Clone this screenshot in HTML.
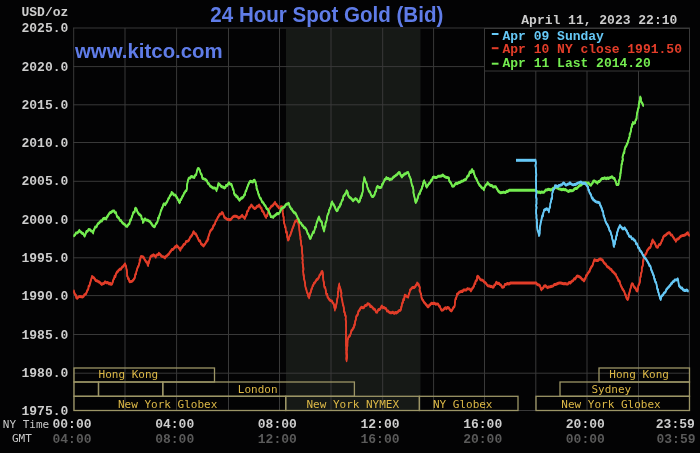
<!DOCTYPE html>
<html><head><meta charset="utf-8"><title>24 Hour Spot Gold (Bid)</title>
<style>html,body{margin:0;padding:0;background:#030304;width:700px;height:453px;overflow:hidden}svg{display:block}</style>
</head><body>
<svg width="700" height="453" viewBox="0 0 700 453">
<rect x="0" y="0" width="700" height="453" fill="#030304"/>
<rect x="286" y="29" width="134.5" height="381" fill="#161916"/>
<line x1="73.7" y1="28" x2="73.7" y2="411" stroke="#393939" stroke-width="1"/>
<line x1="125" y1="28" x2="125" y2="411" stroke="#393939" stroke-width="1"/>
<line x1="176.6" y1="28" x2="176.6" y2="411" stroke="#393939" stroke-width="1"/>
<line x1="228.5" y1="28" x2="228.5" y2="411" stroke="#393939" stroke-width="1"/>
<line x1="279.5" y1="28" x2="279.5" y2="411" stroke="#393939" stroke-width="1"/>
<line x1="331" y1="28" x2="331" y2="411" stroke="#393939" stroke-width="1"/>
<line x1="382.7" y1="28" x2="382.7" y2="411" stroke="#393939" stroke-width="1"/>
<line x1="433.6" y1="28" x2="433.6" y2="411" stroke="#393939" stroke-width="1"/>
<line x1="484.5" y1="28" x2="484.5" y2="411" stroke="#393939" stroke-width="1"/>
<line x1="535.8" y1="28" x2="535.8" y2="411" stroke="#393939" stroke-width="1"/>
<line x1="587.0" y1="28" x2="587.0" y2="411" stroke="#393939" stroke-width="1"/>
<line x1="638.5" y1="28" x2="638.5" y2="411" stroke="#393939" stroke-width="1"/>
<line x1="689.4" y1="28" x2="689.4" y2="411" stroke="#393939" stroke-width="1"/>
<line x1="73" y1="28.0" x2="690" y2="28.0" stroke="#393939" stroke-width="1"/>
<line x1="73" y1="66.6" x2="690" y2="66.6" stroke="#393939" stroke-width="1"/>
<line x1="73" y1="104.8" x2="690" y2="104.8" stroke="#393939" stroke-width="1"/>
<line x1="73" y1="142.5" x2="690" y2="142.5" stroke="#393939" stroke-width="1"/>
<line x1="73" y1="181.3" x2="690" y2="181.3" stroke="#393939" stroke-width="1"/>
<line x1="73" y1="220.2" x2="690" y2="220.2" stroke="#393939" stroke-width="1"/>
<line x1="73" y1="257.8" x2="690" y2="257.8" stroke="#393939" stroke-width="1"/>
<line x1="73" y1="295.6" x2="690" y2="295.6" stroke="#393939" stroke-width="1"/>
<line x1="73" y1="334.5" x2="690" y2="334.5" stroke="#393939" stroke-width="1"/>
<line x1="73" y1="373.2" x2="690" y2="373.2" stroke="#393939" stroke-width="1"/>
<line x1="73" y1="410.5" x2="690" y2="410.5" stroke="#393939" stroke-width="1"/>
<g fill="none" stroke="#9c9566" stroke-width="1.3">
<rect x="74" y="368" width="140.5" height="14.0"/>
<rect x="74" y="382" width="24.5" height="14.3"/>
<rect x="98.5" y="382" width="64.3" height="14.3"/>
<rect x="162.8" y="382" width="191.6" height="14.3"/>
<rect x="74" y="396.3" width="211.7" height="14.2"/>
<rect x="285.7" y="396.3" width="133.7" height="14.2"/>
<rect x="419.4" y="396.3" width="98.6" height="14.2"/>
<rect x="536" y="396.3" width="153.5" height="14.2"/>
<rect x="560" y="382" width="129.5" height="14.3"/>
<rect x="599" y="368" width="90.5" height="14.0"/>
</g>
<g font-family="DejaVu Sans Mono, monospace" font-size="11" fill="#dcb847">
<text x="98.6" y="378.3">Hong Kong</text>
<text x="237.8" y="393">London</text>
<text x="118" y="407.7">New York Globex</text>
<text x="306.4" y="407.7">New York NYMEX</text>
<text x="432.9" y="407.7">NY Globex</text>
<text x="609.3" y="378.3">Hong Kong</text>
<text x="591.4" y="393">Sydney</text>
<text x="561.3" y="407.7">New York Globex</text>
</g>
<g fill="none" stroke="#e23d29" stroke-width="1.4" stroke-linejoin="round" stroke-linecap="round">
<polyline points="74.0,290.3 74.2,291.7 74.8,293.1 75.3,294.2 76.1,294.6 76.2,296.9 77.3,297.5 78.4,296.1 79.9,295.6 81.6,295.9 82.6,296.2 83.7,295.3 84.4,293.9 85.2,293.6 86.0,293.0 86.6,291.6 87.4,289.4 87.9,288.9 88.5,287.7 88.5,285.5 89.4,284.9 89.7,284.2 89.9,282.3 90.5,281.7 90.6,280.1 91.1,279.0 91.8,276.4 91.9,275.7 93.9,277.0 94.6,277.9 95.8,279.7 97.5,280.2 98.5,281.0 99.7,281.5 100.7,282.6 101.8,283.6 102.8,282.9 104.1,282.5 105.1,281.0 106.6,282.0 107.8,281.7 109.2,283.1 110.1,282.4 111.1,283.6 112.1,283.0 112.8,281.1 113.1,279.7 113.8,278.0 114.4,277.4 114.5,275.4 115.5,275.7 115.7,273.7 116.0,273.2 117.0,271.1 117.6,271.1 118.4,269.7 120.0,268.3 121.0,268.4 122.1,266.4 123.0,265.8 124.2,264.2 125.0,263.1 126.0,265.5 126.3,266.4 126.5,268.5 126.5,268.4 126.9,269.6 126.8,271.6 127.3,272.5 127.0,275.0 127.6,275.7 128.0,277.8 128.9,278.2 129.1,279.7 129.6,281.0 131.1,280.8 132.3,280.3 133.3,279.2 134.3,277.7 135.0,276.5 135.0,275.7 135.2,273.8 136.2,272.9 136.2,271.7 136.7,269.6 137.0,269.2 137.2,267.9 138.1,265.7 138.6,265.1 138.9,263.8 139.4,262.2 139.7,261.5 139.5,259.1 140.4,259.2 140.4,257.1 140.9,255.8 142.3,255.9 143.5,256.5 144.1,257.4 144.7,259.0 145.4,259.8 146.2,261.1 147.1,261.5 147.6,263.9 148.2,264.7 148.3,263.1 149.0,261.9 148.8,261.0 149.6,259.3 149.6,258.4 150.3,257.4 150.3,256.3 151.6,255.0 152.2,255.0 153.4,254.0 154.9,255.1 155.7,256.3 156.3,254.7 157.3,253.9 158.3,254.0 158.8,252.5 159.6,253.2 161.1,254.8 161.9,255.6 163.7,256.1 165.0,257.1 165.7,255.8 167.1,254.8 167.7,254.1 168.8,253.3 169.5,252.0 170.7,250.4 170.7,250.5 171.9,248.6 173.1,248.6 173.7,247.8 175.1,245.9 175.9,246.1 176.6,244.8 177.9,246.0 178.9,247.1 179.5,248.0 180.4,249.4 180.9,247.4 182.0,246.5 182.7,245.5 183.7,243.6 184.6,243.5 185.4,242.7 185.8,240.9 187.7,240.3 188.9,239.4 189.3,238.5 190.2,236.5 191.2,235.5 191.9,234.4 192.3,233.9 193.1,231.8 193.6,230.9 194.6,232.6 195.9,233.2 196.5,234.8 196.9,235.0 197.7,237.2 198.2,237.8 198.6,239.3 199.8,240.4 200.3,240.3 200.8,242.7 201.3,243.2 202.1,243.8 203.6,245.2 204.2,244.2 205.1,243.1 206.2,241.3 206.4,240.5 207.5,240.1 207.5,238.2 208.5,238.2 208.2,236.5 208.7,234.9 209.0,234.3 209.5,232.6 209.8,231.6 210.3,230.2 211.0,229.4 212.3,228.0 212.9,227.0 213.1,225.3 213.8,224.8 214.7,223.3 215.2,222.5 215.4,221.0 216.0,220.0 216.6,219.2 217.1,218.2 217.8,216.4 218.4,216.0 219.0,214.6 219.7,213.5 220.9,213.3 222.0,211.7 223.0,212.6 223.7,214.4 223.8,214.9 224.4,216.6 225.4,217.2 227.0,218.4 228.6,218.7 229.8,219.0 231.0,218.4 231.6,217.7 232.6,216.3 234.3,215.4 235.1,215.4 235.9,215.4 237.7,216.1 238.6,217.2 239.4,216.8 240.7,216.0 242.2,214.5 243.2,216.1 244.3,216.8 244.8,217.7 245.5,215.7 245.9,215.3 246.4,213.4 246.9,213.5 246.8,211.3 247.6,210.4 248.4,209.7 248.8,207.4 249.6,206.9 250.7,205.3 251.2,204.2 252.0,204.9 252.8,205.9 253.5,206.9 254.7,207.8 256.2,206.8 257.1,205.5 258.2,205.5 259.1,204.2 260.0,205.5 260.5,206.9 261.6,207.4 261.7,209.6 262.7,210.4 263.7,211.7 264.1,213.2 264.5,213.7 265.3,215.5 266.2,216.6 266.6,214.9 267.4,214.8 267.5,213.2 268.1,212.1 268.8,209.9 269.0,208.3 269.7,207.8 270.6,206.6 271.2,205.5 272.2,205.1 272.9,204.5 274.1,202.8 275.0,201.6 275.7,203.2 276.7,203.8 277.1,205.1 278.2,205.7 278.6,206.9 280.0,207.3 280.9,205.9 282.1,206.0 282.1,207.6 282.6,209.2 282.9,209.3 282.5,210.5 282.7,212.5 283.4,214.0 283.1,215.2 283.3,215.7 283.8,216.4 283.5,218.8 283.8,219.3 284.2,221.0 283.9,221.7 284.5,223.2 284.7,224.4 284.8,225.8 285.7,226.7 285.6,227.5 285.7,229.6 285.9,231.2 286.8,231.2 287.1,232.8 287.2,234.7 287.1,235.8 287.7,237.2 287.6,238.4 288.1,239.2 289.0,238.2 289.2,236.0 289.7,235.1 290.4,234.3 290.8,232.7 291.3,231.0 291.7,230.6 291.8,229.8 292.6,227.4 293.2,226.3 293.1,226.1 293.8,224.6 294.2,223.3 294.5,222.2 295.1,220.7 295.7,220.5 296.8,219.2 297.6,220.4 298.1,221.3 298.5,222.7 298.5,223.8 299.2,224.4 299.0,226.0 299.4,227.4 299.3,228.7 299.6,230.6 299.6,231.9 299.6,232.3 299.8,233.2 300.3,235.1 300.7,236.7 300.3,237.0 300.6,239.2 301.1,240.4 301.1,240.6 301.0,241.9 301.3,243.8 301.2,244.5 301.8,245.4 301.9,248.0 302.2,248.4 302.0,249.9 302.1,251.0 302.3,253.0 302.4,253.2 302.6,254.8 302.5,256.5 302.1,257.8 302.7,258.7 302.7,259.9 302.5,261.3 302.5,262.5 303.0,263.7 303.0,265.1 303.1,267.1 303.5,267.0 303.5,269.0 303.0,269.8 303.2,270.6 303.5,273.2 303.4,274.4 303.8,274.4 304.0,276.4 303.8,277.5 304.4,279.1 304.5,279.7 304.9,281.9 305.2,282.3 305.4,283.6 305.1,284.1 305.4,285.6 305.7,287.3 306.4,288.6 306.5,289.8 306.9,291.2 307.2,292.1 308.0,293.2 308.0,295.2 308.8,295.5 309.1,296.9 309.4,295.7 309.9,293.9 309.9,292.7 310.9,291.3 311.0,290.1 311.2,288.8 311.8,288.1 312.3,286.4 312.6,285.1 313.3,284.5 313.8,282.6 314.7,282.0 315.3,281.0 316.4,279.2 317.0,278.6 317.6,278.4 318.9,276.6 319.4,274.8 320.3,273.7 321.1,272.8 321.4,271.2 322.4,270.7 322.7,271.7 322.9,273.4 323.2,274.5 322.8,275.8 323.4,277.7 323.2,278.2 323.5,280.2 323.9,282.2 324.1,281.8 323.9,283.1 324.2,284.3 324.4,286.4 325.3,286.9 325.6,288.6 325.7,290.5 326.1,290.3 326.0,292.2 326.4,293.5 327.4,293.7 327.4,296.1 327.8,296.4 328.6,297.7 329.5,299.0 330.6,299.8 331.9,300.2 332.7,302.1 333.5,302.7 334.0,304.1 334.4,305.1 334.2,306.2 334.8,307.9 334.8,309.2 335.0,307.5 335.7,307.0 336.0,305.4 336.1,303.8 336.5,303.2 336.8,301.2 336.8,301.1 337.2,298.8 337.0,298.7 337.5,297.6 337.8,295.6 338.0,294.8 337.8,293.0 337.7,291.8 338.6,290.1 338.5,288.8 338.3,288.4 338.6,286.2 338.7,285.9 339.2,283.7 339.3,283.2 339.4,285.2 339.6,285.7 340.1,287.3 340.5,288.5 340.7,288.8 341.0,290.5 340.9,291.0 341.6,292.3 341.1,294.8 341.4,295.9 341.5,296.4 341.8,298.2 342.2,299.1 342.5,300.6 342.3,301.4 342.6,301.8 342.8,303.6 343.3,304.9 343.6,305.5 343.6,307.1 344.0,307.7 344.0,309.5 344.0,310.8 344.8,311.8 345.0,313.3 344.9,314.1 345.8,315.2 345.7,316.7 345.7,317.3 345.5,318.7 346.1,320.8 346.1,322.5 345.9,323.7 345.8,324.1 346.2,326.1 346.2,326.7 346.1,327.8 346.3,329.9 345.8,331.2 345.7,331.1 346.1,332.7 346.0,334.5 346.0,335.5 345.7,337.1 345.9,337.8 346.0,339.5 346.3,340.0 345.8,341.3 346.1,342.1 345.9,344.5 346.4,346.0 346.7,347.1 346.2,347.2 346.2,348.9 346.4,350.2 346.3,351.9 346.2,352.5 346.8,354.3 346.3,354.6 346.8,355.5 346.2,357.5 346.6,358.1 346.6,359.9 346.3,358.2 346.9,357.4 347.1,356.7 347.2,354.3 346.6,353.0 346.9,352.3 346.6,351.5 346.7,349.9 346.9,349.4 347.1,347.3 346.8,346.4 347.3,345.6 347.6,344.6 347.1,342.3 347.6,342.1 347.5,340.9 347.5,339.2 348.2,337.6 348.5,336.0 349.4,335.5 350.0,334.7 350.7,332.6 351.0,332.0 351.3,329.9 352.5,328.8 353.1,327.4 354.1,326.1 354.1,324.2 354.8,324.2 355.0,321.9 355.1,320.7 355.7,319.3 356.1,317.5 356.0,316.7 356.4,315.4 357.0,314.7 357.9,313.5 358.3,310.7 358.8,310.2 359.7,309.0 360.5,307.4 361.4,306.5 363.0,307.0 364.0,306.8 364.4,305.6 365.5,304.6 366.8,304.5 367.4,302.9 368.5,303.1 369.7,303.8 370.2,305.6 371.2,305.4 372.3,306.5 373.6,308.2 374.1,308.3 375.1,308.9 376.0,311.2 377.2,311.4 377.7,310.0 378.6,308.7 379.6,308.7 380.7,307.5 381.5,305.5 382.0,305.3 382.8,306.9 383.7,306.6 385.0,307.4 386.1,307.8 386.9,310.1 388.1,310.2 389.0,311.3 390.3,311.9 391.9,311.9 392.7,311.4 394.2,312.6 395.5,311.6 396.2,312.2 397.6,311.3 399.2,309.7 400.3,309.5 401.1,308.2 401.1,306.2 401.5,306.3 401.9,303.6 402.2,302.3 402.9,301.6 403.1,301.1 403.2,298.7 404.2,298.8 404.5,296.5 404.3,296.4 404.7,294.5 406.5,295.4 408.2,296.3 408.5,295.4 408.7,293.2 409.0,293.1 409.6,291.7 409.7,290.4 410.0,289.2 410.9,288.4 412.1,287.0 412.7,286.6 414.1,286.8 415.3,285.7 416.2,284.0 416.9,283.9 417.1,282.2 417.7,282.7 418.8,283.9 418.8,284.5 419.7,286.3 419.9,287.1 419.4,289.6 420.3,291.0 420.5,291.6 420.6,292.8 421.2,293.4 421.4,295.1 421.4,296.6 421.9,297.7 422.4,298.9 423.2,299.8 424.0,301.5 425.0,302.5 426.3,304.1 427.1,304.8 427.5,305.9 428.6,306.0 429.3,304.2 430.3,304.0 431.2,302.5 432.8,302.7 434.7,302.5 435.7,303.5 437.1,303.1 438.3,303.4 439.0,305.2 440.1,305.9 440.4,307.2 440.8,308.2 441.8,309.5 443.2,309.1 443.8,308.3 445.3,306.9 446.4,307.8 447.6,306.6 448.9,307.2 449.8,308.8 450.6,309.7 451.5,310.1 452.3,308.9 452.7,308.1 453.4,306.8 454.2,306.0 454.6,305.4 454.8,303.0 454.8,302.1 455.3,300.5 455.2,299.5 455.6,297.8 456.1,298.0 456.3,296.5 456.8,295.4 456.8,293.6 458.3,292.6 459.3,291.3 460.3,291.0 461.7,290.4 462.5,290.7 463.5,289.2 464.8,289.2 466.5,289.1 467.4,287.8 469.2,288.3 469.9,288.4 470.9,290.1 471.8,288.6 472.0,287.9 472.9,286.9 473.5,286.0 474.1,285.0 474.5,282.9 475.5,282.6 475.3,280.9 476.2,279.8 477.0,279.1 477.0,276.1 477.9,275.4 478.8,276.4 480.0,278.3 480.6,278.9 481.8,279.2 483.2,279.8 484.2,281.3 484.8,281.4 485.9,282.5 486.7,283.6 487.9,284.9 489.4,285.1 490.6,285.7 491.5,285.6 493.0,286.5 493.7,286.1 494.4,284.2 495.5,283.8 495.8,282.1 496.5,281.6 497.6,282.7 499.1,282.5 499.7,283.6 501.0,284.3 502.0,286.2 502.7,286.5 504.2,285.8 504.8,283.7 506.2,283.4 507.6,282.7 508.9,283.2 510.6,282.2 536.2,282.2 537.3,283.7 538.9,284.2 539.9,284.8 540.5,286.4 540.6,287.3 541.5,289.0 542.0,287.7 543.2,287.0 544.2,285.1 545.6,285.0 546.5,286.1 547.7,286.9 548.6,286.1 550.0,286.0 552.1,285.4 553.1,285.1 554.3,283.6 555.6,283.7 556.7,283.2 558.3,282.5 559.7,282.1 560.9,282.2 562.5,282.6 563.5,283.0 565.1,282.8 566.7,283.1 568.0,283.1 569.1,281.6 570.4,282.2 571.3,281.0 572.4,280.1 573.1,279.8 574.3,277.8 575.3,278.1 575.8,277.1 576.8,275.4 578.0,275.3 579.3,275.9 580.3,276.6 581.4,277.6 581.8,278.4 583.3,279.2 583.9,280.1 584.5,279.5 585.0,277.8 585.7,277.1 586.0,274.8 587.0,274.4 587.4,273.1 587.9,272.6 589.0,270.9 589.7,270.3 590.0,268.6 590.9,267.2 591.0,266.7 592.2,265.1 592.7,264.2 593.1,263.0 593.3,261.9 594.0,260.0 594.4,258.9 595.4,259.4 597.1,259.8 598.1,259.6 599.2,258.5 600.6,258.1 601.3,258.8 602.5,259.2 603.3,260.7 603.8,261.7 604.8,262.8 605.7,263.2 606.9,265.6 607.7,266.0 608.9,266.9 609.4,267.1 610.2,268.3 611.6,268.9 612.1,270.4 613.4,271.3 614.0,271.9 615.0,273.2 616.0,273.8 616.3,275.3 616.6,275.9 617.8,277.9 618.2,279.2 618.4,279.9 619.5,280.2 619.9,281.7 620.4,283.7 620.8,284.5 621.2,285.6 621.8,286.6 622.5,288.3 623.3,289.0 623.8,290.1 624.4,291.0 624.7,292.6 625.3,294.0 625.8,294.3 626.2,296.5 626.9,297.9 627.7,298.7 628.0,298.2 628.6,296.6 628.5,294.3 628.9,294.2 629.5,292.2 629.2,292.2 630.0,290.2 630.1,289.0 630.7,287.2 630.9,286.8 631.3,284.8 631.3,284.3 632.0,282.9 633.1,283.6 633.3,284.7 634.5,286.6 635.7,287.6 636.4,289.8 637.4,290.2 637.8,288.6 638.2,287.0 638.2,286.9 638.4,284.6 639.0,283.8 639.3,282.9 639.9,281.1 640.0,280.3 640.2,279.2 640.3,277.8 640.2,276.8 640.9,275.4 640.7,274.3 640.8,272.9 641.4,272.1 641.7,270.5 641.8,269.6 641.6,267.6 642.1,266.7 642.4,265.6 642.8,264.9 642.9,263.9 643.0,262.2 643.0,260.4 643.6,259.9 643.2,259.4 643.7,257.5 644.3,256.5 644.8,254.4 645.4,253.8 646.4,252.1 646.5,252.2 646.9,250.2 647.8,249.0 649.0,247.3 650.3,246.5 651.0,245.1 650.7,244.0 651.1,243.2 652.2,242.3 651.9,240.7 652.7,239.2 653.3,240.4 654.1,241.4 655.1,242.9 655.6,244.3 656.4,246.0 657.6,246.5 658.0,246.3 658.8,243.9 660.0,243.7 660.7,242.7 661.2,241.7 661.8,239.8 662.3,239.3 663.1,237.2 662.9,237.1 663.7,235.6 665.2,234.6 666.3,233.9 667.2,232.8 668.5,232.0 669.8,232.0 670.8,234.0 672.2,234.4 672.7,235.6 673.4,236.6 674.5,238.4 675.4,239.2 675.8,240.5 676.5,239.3 677.3,238.2 678.6,237.9 679.5,236.8 680.5,235.7 681.6,235.1 683.1,234.6 684.3,234.4 685.8,233.7 686.6,232.7 688.0,232.0 688.2,233.6 689.2,234.4"/>
<polyline points="74.0,291.1 74.2,292.5 74.8,293.9 75.3,295.0 76.1,295.4 76.2,297.7 77.3,298.3 78.4,296.9 79.9,296.4 81.6,296.7 82.6,297.0 83.7,296.1 84.4,294.7 85.2,294.4 86.0,293.8 86.6,292.4 87.4,290.2 87.9,289.7 88.5,288.5 88.5,286.3 89.4,285.7 89.7,285.0 89.9,283.1 90.5,282.5 90.6,280.9 91.1,279.8 91.8,277.2 91.9,276.5 93.9,277.8 94.6,278.7 95.8,280.5 97.5,281.0 98.5,281.8 99.7,282.3 100.7,283.4 101.8,284.4 102.8,283.7 104.1,283.3 105.1,281.8 106.6,282.8 107.8,282.5 109.2,283.9 110.1,283.2 111.1,284.4 112.1,283.8 112.8,281.9 113.1,280.5 113.8,278.8 114.4,278.2 114.5,276.2 115.5,276.5 115.7,274.5 116.0,274.0 117.0,271.9 117.6,271.9 118.4,270.5 120.0,269.1 121.0,269.2 122.1,267.2 123.0,266.6 124.2,265.0 125.0,263.9 126.0,266.3 126.3,267.2 126.5,269.3 126.5,269.2 126.9,270.4 126.8,272.4 127.3,273.3 127.0,275.8 127.6,276.5 128.0,278.6 128.9,279.0 129.1,280.5 129.6,281.8 131.1,281.6 132.3,281.1 133.3,280.0 134.3,278.5 135.0,277.3 135.0,276.5 135.2,274.6 136.2,273.7 136.2,272.5 136.7,270.4 137.0,270.0 137.2,268.7 138.1,266.5 138.6,265.9 138.9,264.6 139.4,263.0 139.7,262.3 139.5,259.9 140.4,260.0 140.4,257.9 140.9,256.6 142.3,256.7 143.5,257.3 144.1,258.2 144.7,259.8 145.4,260.6 146.2,261.9 147.1,262.3 147.6,264.7 148.2,265.5 148.3,263.9 149.0,262.7 148.8,261.8 149.6,260.1 149.6,259.2 150.3,258.2 150.3,257.1 151.6,255.8 152.2,255.8 153.4,254.8 154.9,255.9 155.7,257.1 156.3,255.5 157.3,254.7 158.3,254.8 158.8,253.3 159.6,254.0 161.1,255.6 161.9,256.4 163.7,256.9 165.0,257.9 165.7,256.6 167.1,255.6 167.7,254.9 168.8,254.1 169.5,252.8 170.7,251.2 170.7,251.3 171.9,249.4 173.1,249.4 173.7,248.6 175.1,246.7 175.9,246.9 176.6,245.6 177.9,246.8 178.9,247.9 179.5,248.8 180.4,250.2 180.9,248.2 182.0,247.3 182.7,246.3 183.7,244.4 184.6,244.3 185.4,243.5 185.8,241.7 187.7,241.1 188.9,240.2 189.3,239.3 190.2,237.3 191.2,236.3 191.9,235.2 192.3,234.7 193.1,232.6 193.6,231.7 194.6,233.4 195.9,234.0 196.5,235.6 196.9,235.8 197.7,238.0 198.2,238.6 198.6,240.1 199.8,241.2 200.3,241.1 200.8,243.5 201.3,244.0 202.1,244.6 203.6,246.0 204.2,245.0 205.1,243.9 206.2,242.1 206.4,241.3 207.5,240.9 207.5,239.0 208.5,239.0 208.2,237.3 208.7,235.7 209.0,235.1 209.5,233.4 209.8,232.4 210.3,231.0 211.0,230.2 212.3,228.8 212.9,227.8 213.1,226.1 213.8,225.6 214.7,224.1 215.2,223.3 215.4,221.8 216.0,220.8 216.6,220.0 217.1,219.0 217.8,217.2 218.4,216.8 219.0,215.4 219.7,214.3 220.9,214.1 222.0,212.5 223.0,213.4 223.7,215.2 223.8,215.7 224.4,217.4 225.4,218.0 227.0,219.2 228.6,219.5 229.8,219.8 231.0,219.2 231.6,218.5 232.6,217.1 234.3,216.2 235.1,216.2 235.9,216.2 237.7,216.9 238.6,218.0 239.4,217.6 240.7,216.8 242.2,215.3 243.2,216.9 244.3,217.6 244.8,218.5 245.5,216.5 245.9,216.1 246.4,214.2 246.9,214.3 246.8,212.1 247.6,211.2 248.4,210.5 248.8,208.2 249.6,207.7 250.7,206.1 251.2,205.0 252.0,205.7 252.8,206.7 253.5,207.7 254.7,208.6 256.2,207.6 257.1,206.3 258.2,206.3 259.1,205.0 260.0,206.3 260.5,207.7 261.6,208.2 261.7,210.4 262.7,211.2 263.7,212.5 264.1,214.0 264.5,214.5 265.3,216.3 266.2,217.4 266.6,215.7 267.4,215.6 267.5,214.0 268.1,212.9 268.8,210.7 269.0,209.1 269.7,208.6 270.6,207.4 271.2,206.3 272.2,205.9 272.9,205.3 274.1,203.6 275.0,202.4 275.7,204.0 276.7,204.6 277.1,205.9 278.2,206.5 278.6,207.7 280.0,208.1 280.9,206.7 282.1,206.8 282.1,208.4 282.6,210.0 282.9,210.1 282.5,211.3 282.7,213.3 283.4,214.8 283.1,216.0 283.3,216.5 283.8,217.2 283.5,219.6 283.8,220.1 284.2,221.8 283.9,222.5 284.5,224.0 284.7,225.2 284.8,226.6 285.7,227.5 285.6,228.3 285.7,230.4 285.9,232.0 286.8,232.0 287.1,233.6 287.2,235.5 287.1,236.6 287.7,238.0 287.6,239.2 288.1,240.0 289.0,239.0 289.2,236.8 289.7,235.9 290.4,235.1 290.8,233.5 291.3,231.8 291.7,231.4 291.8,230.6 292.6,228.2 293.2,227.1 293.1,226.9 293.8,225.4 294.2,224.1 294.5,223.0 295.1,221.5 295.7,221.3 296.8,220.0 297.6,221.2 298.1,222.1 298.5,223.5 298.5,224.6 299.2,225.2 299.0,226.8 299.4,228.2 299.3,229.5 299.6,231.4 299.6,232.7 299.6,233.1 299.8,234.0 300.3,235.9 300.7,237.5 300.3,237.8 300.6,240.0 301.1,241.2 301.1,241.4 301.0,242.7 301.3,244.6 301.2,245.3 301.8,246.2 301.9,248.8 302.2,249.2 302.0,250.7 302.1,251.8 302.3,253.8 302.4,254.0 302.6,255.6 302.5,257.3 302.1,258.6 302.7,259.5 302.7,260.7 302.5,262.1 302.5,263.3 303.0,264.5 303.0,265.9 303.1,267.9 303.5,267.8 303.5,269.8 303.0,270.6 303.2,271.4 303.5,274.0 303.4,275.2 303.8,275.2 304.0,277.2 303.8,278.3 304.4,279.9 304.5,280.5 304.9,282.7 305.2,283.1 305.4,284.4 305.1,284.9 305.4,286.4 305.7,288.1 306.4,289.4 306.5,290.6 306.9,292.0 307.2,292.9 308.0,294.0 308.0,296.0 308.8,296.3 309.1,297.7 309.4,296.5 309.9,294.7 309.9,293.5 310.9,292.1 311.0,290.9 311.2,289.6 311.8,288.9 312.3,287.2 312.6,285.9 313.3,285.3 313.8,283.4 314.7,282.8 315.3,281.8 316.4,280.0 317.0,279.4 317.6,279.2 318.9,277.4 319.4,275.6 320.3,274.5 321.1,273.6 321.4,272.0 322.4,271.5 322.7,272.5 322.9,274.2 323.2,275.3 322.8,276.6 323.4,278.5 323.2,279.0 323.5,281.0 323.9,283.0 324.1,282.6 323.9,283.9 324.2,285.1 324.4,287.2 325.3,287.7 325.6,289.4 325.7,291.3 326.1,291.1 326.0,293.0 326.4,294.3 327.4,294.5 327.4,296.9 327.8,297.2 328.6,298.5 329.5,299.8 330.6,300.6 331.9,301.0 332.7,302.9 333.5,303.5 334.0,304.9 334.4,305.9 334.2,307.0 334.8,308.7 334.8,310.0 335.0,308.3 335.7,307.8 336.0,306.2 336.1,304.6 336.5,304.0 336.8,302.0 336.8,301.9 337.2,299.6 337.0,299.5 337.5,298.4 337.8,296.4 338.0,295.6 337.8,293.8 337.7,292.6 338.6,290.9 338.5,289.6 338.3,289.2 338.6,287.0 338.7,286.7 339.2,284.5 339.3,284.0 339.4,286.0 339.6,286.5 340.1,288.1 340.5,289.3 340.7,289.6 341.0,291.3 340.9,291.8 341.6,293.1 341.1,295.6 341.4,296.7 341.5,297.2 341.8,299.0 342.2,299.9 342.5,301.4 342.3,302.2 342.6,302.6 342.8,304.4 343.3,305.7 343.6,306.3 343.6,307.9 344.0,308.5 344.0,310.3 344.0,311.6 344.8,312.6 345.0,314.1 344.9,314.9 345.8,316.0 345.7,317.5 345.7,318.1 345.5,319.5 346.1,321.6 346.1,323.3 345.9,324.5 345.8,324.9 346.2,326.9 346.2,327.5 346.1,328.6 346.3,330.7 345.8,332.0 345.7,331.9 346.1,333.5 346.0,335.3 346.0,336.3 345.7,337.9 345.9,338.6 346.0,340.3 346.3,340.8 345.8,342.1 346.1,342.9 345.9,345.3 346.4,346.8 346.7,347.9 346.2,348.0 346.2,349.7 346.4,351.0 346.3,352.7 346.2,353.3 346.8,355.1 346.3,355.4 346.8,356.3 346.2,358.3 346.6,358.9 346.6,360.7 346.3,359.0 346.9,358.2 347.1,357.5 347.2,355.1 346.6,353.8 346.9,353.1 346.6,352.3 346.7,350.7 346.9,350.2 347.1,348.1 346.8,347.2 347.3,346.4 347.6,345.4 347.1,343.1 347.6,342.9 347.5,341.7 347.5,340.0 348.2,338.4 348.5,336.8 349.4,336.3 350.0,335.5 350.7,333.4 351.0,332.8 351.3,330.7 352.5,329.6 353.1,328.2 354.1,326.9 354.1,325.0 354.8,325.0 355.0,322.7 355.1,321.5 355.7,320.1 356.1,318.3 356.0,317.5 356.4,316.2 357.0,315.5 357.9,314.3 358.3,311.5 358.8,311.0 359.7,309.8 360.5,308.2 361.4,307.3 363.0,307.8 364.0,307.6 364.4,306.4 365.5,305.4 366.8,305.3 367.4,303.7 368.5,303.9 369.7,304.6 370.2,306.4 371.2,306.2 372.3,307.3 373.6,309.0 374.1,309.1 375.1,309.7 376.0,312.0 377.2,312.2 377.7,310.8 378.6,309.5 379.6,309.5 380.7,308.3 381.5,306.3 382.0,306.1 382.8,307.7 383.7,307.4 385.0,308.2 386.1,308.6 386.9,310.9 388.1,311.0 389.0,312.1 390.3,312.7 391.9,312.7 392.7,312.2 394.2,313.4 395.5,312.4 396.2,313.0 397.6,312.1 399.2,310.5 400.3,310.3 401.1,309.0 401.1,307.0 401.5,307.1 401.9,304.4 402.2,303.1 402.9,302.4 403.1,301.9 403.2,299.5 404.2,299.6 404.5,297.3 404.3,297.2 404.7,295.3 406.5,296.2 408.2,297.1 408.5,296.2 408.7,294.0 409.0,293.9 409.6,292.5 409.7,291.2 410.0,290.0 410.9,289.2 412.1,287.8 412.7,287.4 414.1,287.6 415.3,286.5 416.2,284.8 416.9,284.7 417.1,283.0 417.7,283.5 418.8,284.7 418.8,285.3 419.7,287.1 419.9,287.9 419.4,290.4 420.3,291.8 420.5,292.4 420.6,293.6 421.2,294.2 421.4,295.9 421.4,297.4 421.9,298.5 422.4,299.7 423.2,300.6 424.0,302.3 425.0,303.3 426.3,304.9 427.1,305.6 427.5,306.7 428.6,306.8 429.3,305.0 430.3,304.8 431.2,303.3 432.8,303.5 434.7,303.3 435.7,304.3 437.1,303.9 438.3,304.2 439.0,306.0 440.1,306.7 440.4,308.0 440.8,309.0 441.8,310.3 443.2,309.9 443.8,309.1 445.3,307.7 446.4,308.6 447.6,307.4 448.9,308.0 449.8,309.6 450.6,310.5 451.5,310.9 452.3,309.7 452.7,308.9 453.4,307.6 454.2,306.8 454.6,306.2 454.8,303.8 454.8,302.9 455.3,301.3 455.2,300.3 455.6,298.6 456.1,298.8 456.3,297.3 456.8,296.2 456.8,294.4 458.3,293.4 459.3,292.1 460.3,291.8 461.7,291.2 462.5,291.5 463.5,290.0 464.8,290.0 466.5,289.9 467.4,288.6 469.2,289.1 469.9,289.2 470.9,290.9 471.8,289.4 472.0,288.7 472.9,287.7 473.5,286.8 474.1,285.8 474.5,283.7 475.5,283.4 475.3,281.7 476.2,280.6 477.0,279.9 477.0,276.9 477.9,276.2 478.8,277.2 480.0,279.1 480.6,279.7 481.8,280.0 483.2,280.6 484.2,282.1 484.8,282.2 485.9,283.3 486.7,284.4 487.9,285.7 489.4,285.9 490.6,286.5 491.5,286.4 493.0,287.3 493.7,286.9 494.4,285.0 495.5,284.6 495.8,282.9 496.5,282.4 497.6,283.5 499.1,283.3 499.7,284.4 501.0,285.1 502.0,287.0 502.7,287.3 504.2,286.6 504.8,284.5 506.2,284.2 507.6,283.5 508.9,284.0 510.6,283.0 536.2,283.0 537.3,284.5 538.9,285.0 539.9,285.6 540.5,287.2 540.6,288.1 541.5,289.8 542.0,288.5 543.2,287.8 544.2,285.9 545.6,285.8 546.5,286.9 547.7,287.7 548.6,286.9 550.0,286.8 552.1,286.2 553.1,285.9 554.3,284.4 555.6,284.5 556.7,284.0 558.3,283.3 559.7,282.9 560.9,283.0 562.5,283.4 563.5,283.8 565.1,283.6 566.7,283.9 568.0,283.9 569.1,282.4 570.4,283.0 571.3,281.8 572.4,280.9 573.1,280.6 574.3,278.6 575.3,278.9 575.8,277.9 576.8,276.2 578.0,276.1 579.3,276.7 580.3,277.4 581.4,278.4 581.8,279.2 583.3,280.0 583.9,280.9 584.5,280.3 585.0,278.6 585.7,277.9 586.0,275.6 587.0,275.2 587.4,273.9 587.9,273.4 589.0,271.7 589.7,271.1 590.0,269.4 590.9,268.0 591.0,267.5 592.2,265.9 592.7,265.0 593.1,263.8 593.3,262.7 594.0,260.8 594.4,259.7 595.4,260.2 597.1,260.6 598.1,260.4 599.2,259.3 600.6,258.9 601.3,259.6 602.5,260.0 603.3,261.5 603.8,262.5 604.8,263.6 605.7,264.0 606.9,266.4 607.7,266.8 608.9,267.7 609.4,267.9 610.2,269.1 611.6,269.7 612.1,271.2 613.4,272.1 614.0,272.7 615.0,274.0 616.0,274.6 616.3,276.1 616.6,276.7 617.8,278.7 618.2,280.0 618.4,280.7 619.5,281.0 619.9,282.5 620.4,284.5 620.8,285.3 621.2,286.4 621.8,287.4 622.5,289.1 623.3,289.8 623.8,290.9 624.4,291.8 624.7,293.4 625.3,294.8 625.8,295.1 626.2,297.3 626.9,298.7 627.7,299.5 628.0,299.0 628.6,297.4 628.5,295.1 628.9,295.0 629.5,293.0 629.2,293.0 630.0,291.0 630.1,289.8 630.7,288.0 630.9,287.6 631.3,285.6 631.3,285.1 632.0,283.7 633.1,284.4 633.3,285.5 634.5,287.4 635.7,288.4 636.4,290.6 637.4,291.0 637.8,289.4 638.2,287.8 638.2,287.7 638.4,285.4 639.0,284.6 639.3,283.7 639.9,281.9 640.0,281.1 640.2,280.0 640.3,278.6 640.2,277.6 640.9,276.2 640.7,275.1 640.8,273.7 641.4,272.9 641.7,271.3 641.8,270.4 641.6,268.4 642.1,267.5 642.4,266.4 642.8,265.7 642.9,264.7 643.0,263.0 643.0,261.2 643.6,260.7 643.2,260.2 643.7,258.3 644.3,257.3 644.8,255.2 645.4,254.6 646.4,252.9 646.5,253.0 646.9,251.0 647.8,249.8 649.0,248.1 650.3,247.3 651.0,245.9 650.7,244.8 651.1,244.0 652.2,243.1 651.9,241.5 652.7,240.0 653.3,241.2 654.1,242.2 655.1,243.7 655.6,245.1 656.4,246.8 657.6,247.3 658.0,247.1 658.8,244.7 660.0,244.5 660.7,243.5 661.2,242.5 661.8,240.6 662.3,240.1 663.1,238.0 662.9,237.9 663.7,236.4 665.2,235.4 666.3,234.7 667.2,233.6 668.5,232.8 669.8,232.8 670.8,234.8 672.2,235.2 672.7,236.4 673.4,237.4 674.5,239.2 675.4,240.0 675.8,241.3 676.5,240.1 677.3,239.0 678.6,238.7 679.5,237.6 680.5,236.5 681.6,235.9 683.1,235.4 684.3,235.2 685.8,234.5 686.6,233.5 688.0,232.8 688.2,234.4 689.2,235.2"/>
<polyline points="74.0,291.9 74.2,293.3 74.8,294.7 75.3,295.8 76.1,296.2 76.2,298.5 77.3,299.1 78.4,297.7 79.9,297.2 81.6,297.5 82.6,297.8 83.7,296.9 84.4,295.5 85.2,295.2 86.0,294.6 86.6,293.2 87.4,291.0 87.9,290.5 88.5,289.3 88.5,287.1 89.4,286.5 89.7,285.8 89.9,283.9 90.5,283.3 90.6,281.7 91.1,280.6 91.8,278.0 91.9,277.3 93.9,278.6 94.6,279.5 95.8,281.3 97.5,281.8 98.5,282.6 99.7,283.1 100.7,284.2 101.8,285.2 102.8,284.5 104.1,284.1 105.1,282.6 106.6,283.6 107.8,283.3 109.2,284.7 110.1,284.0 111.1,285.2 112.1,284.6 112.8,282.7 113.1,281.3 113.8,279.6 114.4,279.0 114.5,277.0 115.5,277.3 115.7,275.3 116.0,274.8 117.0,272.7 117.6,272.7 118.4,271.3 120.0,269.9 121.0,270.0 122.1,268.0 123.0,267.4 124.2,265.8 125.0,264.7 126.0,267.1 126.3,268.0 126.5,270.1 126.5,270.0 126.9,271.2 126.8,273.2 127.3,274.1 127.0,276.6 127.6,277.3 128.0,279.4 128.9,279.8 129.1,281.3 129.6,282.6 131.1,282.4 132.3,281.9 133.3,280.8 134.3,279.3 135.0,278.1 135.0,277.3 135.2,275.4 136.2,274.5 136.2,273.3 136.7,271.2 137.0,270.8 137.2,269.5 138.1,267.3 138.6,266.7 138.9,265.4 139.4,263.8 139.7,263.1 139.5,260.7 140.4,260.8 140.4,258.7 140.9,257.4 142.3,257.5 143.5,258.1 144.1,259.0 144.7,260.6 145.4,261.4 146.2,262.7 147.1,263.1 147.6,265.5 148.2,266.3 148.3,264.7 149.0,263.5 148.8,262.6 149.6,260.9 149.6,260.0 150.3,259.0 150.3,257.9 151.6,256.6 152.2,256.6 153.4,255.6 154.9,256.7 155.7,257.9 156.3,256.3 157.3,255.5 158.3,255.6 158.8,254.1 159.6,254.8 161.1,256.4 161.9,257.2 163.7,257.7 165.0,258.7 165.7,257.4 167.1,256.4 167.7,255.7 168.8,254.9 169.5,253.6 170.7,252.0 170.7,252.1 171.9,250.2 173.1,250.2 173.7,249.4 175.1,247.5 175.9,247.7 176.6,246.4 177.9,247.6 178.9,248.7 179.5,249.6 180.4,251.0 180.9,249.0 182.0,248.1 182.7,247.1 183.7,245.2 184.6,245.1 185.4,244.3 185.8,242.5 187.7,241.9 188.9,241.0 189.3,240.1 190.2,238.1 191.2,237.1 191.9,236.0 192.3,235.5 193.1,233.4 193.6,232.5 194.6,234.2 195.9,234.8 196.5,236.4 196.9,236.6 197.7,238.8 198.2,239.4 198.6,240.9 199.8,242.0 200.3,241.9 200.8,244.3 201.3,244.8 202.1,245.4 203.6,246.8 204.2,245.8 205.1,244.7 206.2,242.9 206.4,242.1 207.5,241.7 207.5,239.8 208.5,239.8 208.2,238.1 208.7,236.5 209.0,235.9 209.5,234.2 209.8,233.2 210.3,231.8 211.0,231.0 212.3,229.6 212.9,228.6 213.1,226.9 213.8,226.4 214.7,224.9 215.2,224.1 215.4,222.6 216.0,221.6 216.6,220.8 217.1,219.8 217.8,218.0 218.4,217.6 219.0,216.2 219.7,215.1 220.9,214.9 222.0,213.3 223.0,214.2 223.7,216.0 223.8,216.5 224.4,218.2 225.4,218.8 227.0,220.0 228.6,220.3 229.8,220.6 231.0,220.0 231.6,219.3 232.6,217.9 234.3,217.0 235.1,217.0 235.9,217.0 237.7,217.7 238.6,218.8 239.4,218.4 240.7,217.6 242.2,216.1 243.2,217.7 244.3,218.4 244.8,219.3 245.5,217.3 245.9,216.9 246.4,215.0 246.9,215.1 246.8,212.9 247.6,212.0 248.4,211.3 248.8,209.0 249.6,208.5 250.7,206.9 251.2,205.8 252.0,206.5 252.8,207.5 253.5,208.5 254.7,209.4 256.2,208.4 257.1,207.1 258.2,207.1 259.1,205.8 260.0,207.1 260.5,208.5 261.6,209.0 261.7,211.2 262.7,212.0 263.7,213.3 264.1,214.8 264.5,215.3 265.3,217.1 266.2,218.2 266.6,216.5 267.4,216.4 267.5,214.8 268.1,213.7 268.8,211.5 269.0,209.9 269.7,209.4 270.6,208.2 271.2,207.1 272.2,206.7 272.9,206.1 274.1,204.4 275.0,203.2 275.7,204.8 276.7,205.4 277.1,206.7 278.2,207.3 278.6,208.5 280.0,208.9 280.9,207.5 282.1,207.6 282.1,209.2 282.6,210.8 282.9,210.9 282.5,212.1 282.7,214.1 283.4,215.6 283.1,216.8 283.3,217.3 283.8,218.0 283.5,220.4 283.8,220.9 284.2,222.6 283.9,223.3 284.5,224.8 284.7,226.0 284.8,227.4 285.7,228.3 285.6,229.1 285.7,231.2 285.9,232.8 286.8,232.8 287.1,234.4 287.2,236.3 287.1,237.4 287.7,238.8 287.6,240.0 288.1,240.8 289.0,239.8 289.2,237.6 289.7,236.7 290.4,235.9 290.8,234.3 291.3,232.6 291.7,232.2 291.8,231.4 292.6,229.0 293.2,227.9 293.1,227.7 293.8,226.2 294.2,224.9 294.5,223.8 295.1,222.3 295.7,222.1 296.8,220.8 297.6,222.0 298.1,222.9 298.5,224.3 298.5,225.4 299.2,226.0 299.0,227.6 299.4,229.0 299.3,230.3 299.6,232.2 299.6,233.5 299.6,233.9 299.8,234.8 300.3,236.7 300.7,238.3 300.3,238.6 300.6,240.8 301.1,242.0 301.1,242.2 301.0,243.5 301.3,245.4 301.2,246.1 301.8,247.0 301.9,249.6 302.2,250.0 302.0,251.5 302.1,252.6 302.3,254.6 302.4,254.8 302.6,256.4 302.5,258.1 302.1,259.4 302.7,260.3 302.7,261.5 302.5,262.9 302.5,264.1 303.0,265.3 303.0,266.7 303.1,268.7 303.5,268.6 303.5,270.6 303.0,271.4 303.2,272.2 303.5,274.8 303.4,276.0 303.8,276.0 304.0,278.0 303.8,279.1 304.4,280.7 304.5,281.3 304.9,283.5 305.2,283.9 305.4,285.2 305.1,285.7 305.4,287.2 305.7,288.9 306.4,290.2 306.5,291.4 306.9,292.8 307.2,293.7 308.0,294.8 308.0,296.8 308.8,297.1 309.1,298.5 309.4,297.3 309.9,295.5 309.9,294.3 310.9,292.9 311.0,291.7 311.2,290.4 311.8,289.7 312.3,288.0 312.6,286.7 313.3,286.1 313.8,284.2 314.7,283.6 315.3,282.6 316.4,280.8 317.0,280.2 317.6,280.0 318.9,278.2 319.4,276.4 320.3,275.3 321.1,274.4 321.4,272.8 322.4,272.3 322.7,273.3 322.9,275.0 323.2,276.1 322.8,277.4 323.4,279.3 323.2,279.8 323.5,281.8 323.9,283.8 324.1,283.4 323.9,284.7 324.2,285.9 324.4,288.0 325.3,288.5 325.6,290.2 325.7,292.1 326.1,291.9 326.0,293.8 326.4,295.1 327.4,295.3 327.4,297.7 327.8,298.0 328.6,299.3 329.5,300.6 330.6,301.4 331.9,301.8 332.7,303.7 333.5,304.3 334.0,305.7 334.4,306.7 334.2,307.8 334.8,309.5 334.8,310.8 335.0,309.1 335.7,308.6 336.0,307.0 336.1,305.4 336.5,304.8 336.8,302.8 336.8,302.7 337.2,300.4 337.0,300.3 337.5,299.2 337.8,297.2 338.0,296.4 337.8,294.6 337.7,293.4 338.6,291.7 338.5,290.4 338.3,290.0 338.6,287.8 338.7,287.5 339.2,285.3 339.3,284.8 339.4,286.8 339.6,287.3 340.1,288.9 340.5,290.1 340.7,290.4 341.0,292.1 340.9,292.6 341.6,293.9 341.1,296.4 341.4,297.5 341.5,298.0 341.8,299.8 342.2,300.7 342.5,302.2 342.3,303.0 342.6,303.4 342.8,305.2 343.3,306.5 343.6,307.1 343.6,308.7 344.0,309.3 344.0,311.1 344.0,312.4 344.8,313.4 345.0,314.9 344.9,315.7 345.8,316.8 345.7,318.3 345.7,318.9 345.5,320.3 346.1,322.4 346.1,324.1 345.9,325.3 345.8,325.7 346.2,327.7 346.2,328.3 346.1,329.4 346.3,331.5 345.8,332.8 345.7,332.7 346.1,334.3 346.0,336.1 346.0,337.1 345.7,338.7 345.9,339.4 346.0,341.1 346.3,341.6 345.8,342.9 346.1,343.7 345.9,346.1 346.4,347.6 346.7,348.7 346.2,348.8 346.2,350.5 346.4,351.8 346.3,353.5 346.2,354.1 346.8,355.9 346.3,356.2 346.8,357.1 346.2,359.1 346.6,359.7 346.6,361.5 346.3,359.8 346.9,359.0 347.1,358.3 347.2,355.9 346.6,354.6 346.9,353.9 346.6,353.1 346.7,351.5 346.9,351.0 347.1,348.9 346.8,348.0 347.3,347.2 347.6,346.2 347.1,343.9 347.6,343.7 347.5,342.5 347.5,340.8 348.2,339.2 348.5,337.6 349.4,337.1 350.0,336.3 350.7,334.2 351.0,333.6 351.3,331.5 352.5,330.4 353.1,329.0 354.1,327.7 354.1,325.8 354.8,325.8 355.0,323.5 355.1,322.3 355.7,320.9 356.1,319.1 356.0,318.3 356.4,317.0 357.0,316.3 357.9,315.1 358.3,312.3 358.8,311.8 359.7,310.6 360.5,309.0 361.4,308.1 363.0,308.6 364.0,308.4 364.4,307.2 365.5,306.2 366.8,306.1 367.4,304.5 368.5,304.7 369.7,305.4 370.2,307.2 371.2,307.0 372.3,308.1 373.6,309.8 374.1,309.9 375.1,310.5 376.0,312.8 377.2,313.0 377.7,311.6 378.6,310.3 379.6,310.3 380.7,309.1 381.5,307.1 382.0,306.9 382.8,308.5 383.7,308.2 385.0,309.0 386.1,309.4 386.9,311.7 388.1,311.8 389.0,312.9 390.3,313.5 391.9,313.5 392.7,313.0 394.2,314.2 395.5,313.2 396.2,313.8 397.6,312.9 399.2,311.3 400.3,311.1 401.1,309.8 401.1,307.8 401.5,307.9 401.9,305.2 402.2,303.9 402.9,303.2 403.1,302.7 403.2,300.3 404.2,300.4 404.5,298.1 404.3,298.0 404.7,296.1 406.5,297.0 408.2,297.9 408.5,297.0 408.7,294.8 409.0,294.7 409.6,293.3 409.7,292.0 410.0,290.8 410.9,290.0 412.1,288.6 412.7,288.2 414.1,288.4 415.3,287.3 416.2,285.6 416.9,285.5 417.1,283.8 417.7,284.3 418.8,285.5 418.8,286.1 419.7,287.9 419.9,288.7 419.4,291.2 420.3,292.6 420.5,293.2 420.6,294.4 421.2,295.0 421.4,296.7 421.4,298.2 421.9,299.3 422.4,300.5 423.2,301.4 424.0,303.1 425.0,304.1 426.3,305.7 427.1,306.4 427.5,307.5 428.6,307.6 429.3,305.8 430.3,305.6 431.2,304.1 432.8,304.3 434.7,304.1 435.7,305.1 437.1,304.7 438.3,305.0 439.0,306.8 440.1,307.5 440.4,308.8 440.8,309.8 441.8,311.1 443.2,310.7 443.8,309.9 445.3,308.5 446.4,309.4 447.6,308.2 448.9,308.8 449.8,310.4 450.6,311.3 451.5,311.7 452.3,310.5 452.7,309.7 453.4,308.4 454.2,307.6 454.6,307.0 454.8,304.6 454.8,303.7 455.3,302.1 455.2,301.1 455.6,299.4 456.1,299.6 456.3,298.1 456.8,297.0 456.8,295.2 458.3,294.2 459.3,292.9 460.3,292.6 461.7,292.0 462.5,292.3 463.5,290.8 464.8,290.8 466.5,290.7 467.4,289.4 469.2,289.9 469.9,290.0 470.9,291.7 471.8,290.2 472.0,289.5 472.9,288.5 473.5,287.6 474.1,286.6 474.5,284.5 475.5,284.2 475.3,282.5 476.2,281.4 477.0,280.7 477.0,277.7 477.9,277.0 478.8,278.0 480.0,279.9 480.6,280.5 481.8,280.8 483.2,281.4 484.2,282.9 484.8,283.0 485.9,284.1 486.7,285.2 487.9,286.5 489.4,286.7 490.6,287.3 491.5,287.2 493.0,288.1 493.7,287.7 494.4,285.8 495.5,285.4 495.8,283.7 496.5,283.2 497.6,284.3 499.1,284.1 499.7,285.2 501.0,285.9 502.0,287.8 502.7,288.1 504.2,287.4 504.8,285.3 506.2,285.0 507.6,284.3 508.9,284.8 510.6,283.8 536.2,283.8 537.3,285.3 538.9,285.8 539.9,286.4 540.5,288.0 540.6,288.9 541.5,290.6 542.0,289.3 543.2,288.6 544.2,286.7 545.6,286.6 546.5,287.7 547.7,288.5 548.6,287.7 550.0,287.6 552.1,287.0 553.1,286.7 554.3,285.2 555.6,285.3 556.7,284.8 558.3,284.1 559.7,283.7 560.9,283.8 562.5,284.2 563.5,284.6 565.1,284.4 566.7,284.7 568.0,284.7 569.1,283.2 570.4,283.8 571.3,282.6 572.4,281.7 573.1,281.4 574.3,279.4 575.3,279.7 575.8,278.7 576.8,277.0 578.0,276.9 579.3,277.5 580.3,278.2 581.4,279.2 581.8,280.0 583.3,280.8 583.9,281.7 584.5,281.1 585.0,279.4 585.7,278.7 586.0,276.4 587.0,276.0 587.4,274.7 587.9,274.2 589.0,272.5 589.7,271.9 590.0,270.2 590.9,268.8 591.0,268.3 592.2,266.7 592.7,265.8 593.1,264.6 593.3,263.5 594.0,261.6 594.4,260.5 595.4,261.0 597.1,261.4 598.1,261.2 599.2,260.1 600.6,259.7 601.3,260.4 602.5,260.8 603.3,262.3 603.8,263.3 604.8,264.4 605.7,264.8 606.9,267.2 607.7,267.6 608.9,268.5 609.4,268.7 610.2,269.9 611.6,270.5 612.1,272.0 613.4,272.9 614.0,273.5 615.0,274.8 616.0,275.4 616.3,276.9 616.6,277.5 617.8,279.5 618.2,280.8 618.4,281.5 619.5,281.8 619.9,283.3 620.4,285.3 620.8,286.1 621.2,287.2 621.8,288.2 622.5,289.9 623.3,290.6 623.8,291.7 624.4,292.6 624.7,294.2 625.3,295.6 625.8,295.9 626.2,298.1 626.9,299.5 627.7,300.3 628.0,299.8 628.6,298.2 628.5,295.9 628.9,295.8 629.5,293.8 629.2,293.8 630.0,291.8 630.1,290.6 630.7,288.8 630.9,288.4 631.3,286.4 631.3,285.9 632.0,284.5 633.1,285.2 633.3,286.3 634.5,288.2 635.7,289.2 636.4,291.4 637.4,291.8 637.8,290.2 638.2,288.6 638.2,288.5 638.4,286.2 639.0,285.4 639.3,284.5 639.9,282.7 640.0,281.9 640.2,280.8 640.3,279.4 640.2,278.4 640.9,277.0 640.7,275.9 640.8,274.5 641.4,273.7 641.7,272.1 641.8,271.2 641.6,269.2 642.1,268.3 642.4,267.2 642.8,266.5 642.9,265.5 643.0,263.8 643.0,262.0 643.6,261.5 643.2,261.0 643.7,259.1 644.3,258.1 644.8,256.0 645.4,255.4 646.4,253.7 646.5,253.8 646.9,251.8 647.8,250.6 649.0,248.9 650.3,248.1 651.0,246.7 650.7,245.6 651.1,244.8 652.2,243.9 651.9,242.3 652.7,240.8 653.3,242.0 654.1,243.0 655.1,244.5 655.6,245.9 656.4,247.6 657.6,248.1 658.0,247.9 658.8,245.5 660.0,245.3 660.7,244.3 661.2,243.3 661.8,241.4 662.3,240.9 663.1,238.8 662.9,238.7 663.7,237.2 665.2,236.2 666.3,235.5 667.2,234.4 668.5,233.6 669.8,233.6 670.8,235.6 672.2,236.0 672.7,237.2 673.4,238.2 674.5,240.0 675.4,240.8 675.8,242.1 676.5,240.9 677.3,239.8 678.6,239.5 679.5,238.4 680.5,237.3 681.6,236.7 683.1,236.2 684.3,236.0 685.8,235.3 686.6,234.3 688.0,233.6 688.2,235.2 689.2,236.0"/>
</g>
<g fill="none" stroke="#74ec50" stroke-width="1.4" stroke-linejoin="round" stroke-linecap="round">
<polyline points="74.0,234.9 75.1,233.9 76.0,232.2 77.3,232.0 78.4,231.1 79.3,229.6 79.9,230.5 81.3,231.6 82.5,232.8 83.3,232.8 83.8,234.0 84.6,235.3 85.3,233.9 85.9,232.2 86.4,230.6 87.5,230.5 88.6,228.7 90.1,228.9 91.2,230.2 92.4,230.6 93.2,232.2 93.6,230.0 93.9,228.9 94.3,228.3 95.2,226.1 96.6,226.0 96.9,224.9 97.8,223.0 98.7,222.4 99.4,221.9 100.5,220.3 101.8,220.2 103.0,218.2 103.8,217.7 105.0,217.4 106.4,218.1 106.8,216.1 107.6,215.7 108.0,214.6 109.1,213.0 109.9,212.0 111.3,211.5 111.9,210.8 113.0,210.1 114.2,210.2 115.0,211.7 116.1,212.0 116.6,214.4 116.7,215.3 117.6,216.1 118.4,217.0 118.9,217.2 119.9,219.5 121.0,219.7 121.7,221.2 123.1,222.6 123.7,223.0 124.7,223.6 125.9,225.2 127.0,225.6 127.7,224.7 129.0,223.0 129.7,222.5 129.6,221.5 130.1,219.4 131.0,219.2 131.2,218.1 131.8,216.3 132.4,214.8 132.8,213.3 133.1,212.1 134.0,211.4 134.7,210.9 134.9,208.0 135.7,207.4 136.7,208.7 136.8,209.4 137.5,211.0 138.5,212.8 139.3,213.6 140.4,214.4 141.5,215.4 141.4,217.3 141.6,217.9 142.6,218.5 142.7,221.1 142.8,221.6 143.6,220.9 144.0,219.1 145.0,218.0 146.1,219.3 147.7,219.4 148.6,220.0 149.9,220.7 151.0,222.4 151.7,223.0 152.1,224.2 153.4,225.5 154.7,226.0 155.3,224.5 155.8,223.1 156.5,222.5 156.8,222.1 157.7,220.3 157.8,218.7 157.9,217.4 158.9,217.2 159.1,215.4 159.4,214.7 160.1,213.4 160.4,212.4 160.5,211.2 160.9,209.7 161.6,208.8 161.8,207.4 162.2,207.0 163.0,205.3 163.1,204.2 164.0,203.0 165.3,203.9 165.8,202.8 166.6,201.8 167.4,200.4 168.0,198.6 168.5,197.7 169.4,196.8 169.6,195.6 170.6,194.2 171.3,193.5 171.5,191.6 172.7,192.5 173.6,193.9 175.1,194.2 176.1,195.2 176.5,196.7 177.2,196.9 177.8,198.7 178.4,199.5 179.0,201.2 179.5,201.8 180.2,201.0 180.3,199.0 181.2,198.7 181.6,197.6 182.5,195.5 183.0,195.1 183.7,193.6 184.0,192.4 185.0,191.4 185.6,190.1 186.5,189.8 186.7,188.3 187.0,187.4 186.9,186.6 186.9,184.5 187.3,183.3 187.4,182.7 187.8,180.1 188.2,178.9 188.3,178.3 189.2,177.2 190.2,177.3 191.0,175.7 192.4,175.9 193.6,176.5 194.5,176.6 194.9,174.8 195.6,174.2 196.4,173.5 196.6,171.3 197.3,169.4 197.2,169.1 198.0,167.7 199.0,168.0 199.8,169.5 200.3,171.3 200.4,171.7 200.7,172.6 201.7,173.9 202.0,175.9 202.1,176.0 202.4,177.5 204.0,178.1 204.7,178.3 206.0,179.2 207.1,180.2 207.3,181.2 207.9,182.5 208.9,183.0 209.9,184.9 210.4,185.4 211.5,186.1 213.2,187.3 214.8,187.2 215.9,188.1 216.6,189.8 216.7,188.1 217.6,187.1 217.5,186.3 217.8,185.3 218.2,183.4 218.3,182.8 219.4,183.3 220.1,184.3 221.0,185.4 222.0,186.0 223.3,186.4 224.5,187.2 225.6,186.3 225.9,184.7 227.1,184.7 228.3,183.0 228.9,181.9 229.9,183.2 231.6,183.6 231.9,185.0 232.5,186.4 232.7,188.1 233.0,188.5 233.7,189.5 233.7,191.8 234.2,192.5 234.6,194.0 235.9,194.4 236.3,195.9 237.6,195.9 238.0,197.6 238.7,198.2 239.5,199.5 240.1,198.8 241.5,197.0 241.9,197.4 243.3,196.2 243.9,195.1 244.0,194.3 245.2,193.5 245.4,190.9 246.0,190.0 246.3,189.9 246.8,187.5 247.0,187.5 247.6,185.7 248.0,184.6 248.9,182.5 249.7,181.0 250.3,180.4 251.3,180.7 252.9,181.3 253.5,179.7 254.7,179.5 255.1,181.1 255.7,181.3 255.7,182.8 256.1,184.3 256.7,185.4 256.4,187.1 256.8,188.2 257.4,189.2 257.8,191.0 258.2,191.7 258.3,192.7 258.7,194.2 259.3,194.3 259.4,195.9 260.0,197.2 260.9,197.9 261.6,199.8 261.9,201.0 262.6,201.3 263.7,202.6 264.4,204.2 265.6,205.3 266.1,206.9 266.7,207.9 268.0,208.6 268.1,209.2 269.2,211.3 269.1,211.5 270.1,213.6 270.4,213.9 270.6,215.7 272.0,215.9 273.3,216.6 274.0,215.4 275.1,214.6 275.9,213.9 277.0,212.8 278.5,213.0 279.4,212.2 280.2,210.6 280.9,209.3 281.2,207.8 282.4,207.3 283.7,206.4 284.7,206.0 285.3,204.4 286.3,203.5 287.7,203.3 288.3,202.5 289.2,203.0 289.6,205.8 290.3,206.4 290.9,207.8 291.8,208.3 292.4,209.6 293.6,211.3 294.4,212.0 295.6,212.5 296.2,213.9 296.7,214.9 297.3,216.2 298.0,217.8 298.9,219.2 299.3,220.9 300.3,222.0 301.3,222.6 301.8,224.0 302.3,224.6 303.3,225.4 304.0,226.8 305.2,227.1 305.7,227.9 306.8,229.8 307.0,230.3 307.6,232.8 308.1,232.9 308.6,234.0 309.3,235.8 309.3,236.2 310.0,237.7 310.8,237.3 311.4,235.3 312.3,233.5 312.2,233.6 313.1,231.3 313.8,231.7 314.4,229.8 314.8,228.3 314.9,226.6 316.0,226.1 316.4,224.1 316.3,222.9 316.8,221.7 317.1,221.0 317.6,219.2 317.8,219.4 318.3,217.5 319.0,216.2 319.5,217.4 319.7,218.2 320.3,219.8 321.5,221.0 322.0,221.6 322.2,223.2 322.1,224.4 322.8,225.6 323.0,226.9 323.6,228.5 323.5,229.0 324.0,230.2 324.6,228.5 324.3,227.3 324.6,226.7 325.6,224.7 325.3,223.0 325.7,221.7 326.2,221.2 326.6,219.8 326.7,217.9 327.3,216.6 327.2,215.7 327.6,214.2 327.9,213.3 328.5,212.5 328.8,211.4 328.8,209.9 329.5,208.8 329.7,207.9 330.4,206.9 330.9,205.2 331.0,204.1 331.6,201.8 332.2,201.1 332.4,201.7 333.1,203.6 333.7,203.7 334.4,205.5 335.2,206.7 335.1,207.0 335.8,208.6 336.6,209.9 337.7,209.5 338.3,207.3 339.0,206.4 339.9,205.5 340.2,203.5 340.9,203.5 341.5,201.1 341.8,199.9 342.4,199.1 343.1,198.4 343.2,196.7 343.4,195.3 344.6,194.4 344.8,193.3 345.6,192.9 346.0,191.9 346.5,190.0 347.1,190.5 347.9,192.1 347.8,194.1 348.3,194.6 349.2,196.2 349.8,196.7 350.8,197.3 351.8,198.4 353.1,200.0 354.3,198.7 355.4,197.8 356.7,198.5 357.5,199.6 358.7,201.1 359.6,200.5 360.1,199.1 360.3,197.2 361.2,196.7 361.1,195.1 362.0,194.5 361.8,193.6 362.6,191.5 362.7,190.4 362.8,190.0 362.9,188.7 362.8,186.1 363.1,185.8 363.0,184.2 363.3,182.4 363.4,181.7 363.7,180.9 363.8,180.1 364.3,178.7 364.2,176.8 364.9,178.4 365.3,180.0 365.7,181.1 366.4,182.3 366.9,183.6 367.0,184.2 367.2,185.9 367.9,187.8 368.4,188.4 368.6,190.0 369.6,190.8 370.1,191.6 370.8,193.6 371.6,195.1 371.9,195.6 373.2,195.6 374.1,194.5 374.8,193.4 374.8,192.0 375.9,190.3 376.4,189.5 376.4,187.3 376.9,186.4 377.5,185.6 379.3,186.8 380.8,186.7 381.7,185.8 381.8,183.9 382.6,183.5 383.2,182.1 383.9,180.7 384.1,180.1 384.7,178.6 385.7,178.5 386.3,176.8 387.1,177.7 388.7,177.8 389.6,179.0 390.4,178.4 392.1,178.1 392.9,176.8 394.2,175.8 395.0,175.2 396.5,174.0 397.3,173.5 397.9,172.7 398.9,171.6 400.0,172.2 400.1,173.3 401.3,175.2 402.0,176.2 402.5,174.7 403.6,174.4 404.3,173.2 405.7,173.0 406.5,172.1 408.1,171.6 408.9,173.7 409.1,174.9 409.9,176.3 410.4,177.0 410.5,178.5 411.3,179.3 411.0,180.0 411.3,181.0 411.6,183.0 411.9,184.4 412.7,185.6 412.8,186.3 413.3,188.0 413.6,189.7 413.5,191.0 413.3,191.0 413.5,192.5 414.0,194.2 414.3,195.6 414.7,197.2 414.6,197.9 415.2,199.1 415.2,200.6 415.8,201.7 416.2,200.8 416.8,200.0 417.6,197.4 417.9,197.2 418.2,195.6 418.6,193.8 419.2,193.0 419.9,192.8 420.2,190.6 420.8,190.1 421.3,188.6 422.0,187.5 422.0,185.9 422.9,185.0 422.7,183.6 423.2,182.8 423.5,180.9 424.3,180.1 424.5,181.3 425.6,182.6 425.6,184.5 425.9,184.8 426.7,186.3 427.7,184.5 428.4,184.1 428.6,183.0 429.7,182.4 430.3,181.2 431.0,179.6 431.4,180.1 432.3,178.2 432.6,176.9 433.6,176.2 435.5,176.7 436.7,176.7 438.3,175.4 439.8,175.5 441.3,175.3 442.9,174.2 444.0,175.3 445.2,176.2 447.1,176.8 448.3,177.0 449.0,177.4 449.1,179.8 450.0,181.1 450.6,181.7 451.6,183.6 452.0,185.0 452.9,185.5 454.1,185.1 454.7,183.9 456.0,182.4 457.2,182.9 459.0,181.5 459.9,181.7 461.4,180.5 463.0,180.1 464.5,179.0 466.0,178.6 466.8,176.9 467.0,176.4 467.5,175.2 468.8,174.9 469.1,173.2 469.6,171.3 470.9,171.7 471.5,169.3 472.2,168.8 472.5,170.6 473.7,170.4 473.6,172.2 474.4,173.5 474.7,175.0 475.2,176.2 475.5,176.9 476.7,178.3 476.4,178.4 477.3,180.0 477.7,181.3 478.5,182.5 479.6,184.6 480.5,185.1 481.1,186.2 482.0,187.1 483.2,187.4 483.8,189.0 484.3,188.0 484.5,186.8 485.4,185.1 486.1,184.0 487.0,183.4 487.6,181.8 488.2,182.7 489.1,183.5 490.4,184.6 491.7,184.6 493.2,186.2 494.4,186.0 495.9,185.9 496.7,187.8 497.2,188.3 498.2,190.2 498.7,190.7 500.7,192.0 502.0,191.8 503.5,191.3 505.3,191.8 506.9,190.4 507.8,190.6 509.1,189.5 535.0,189.5 536.5,190.3 537.9,191.4 539.4,191.1 540.3,191.9 541.2,191.2 542.7,191.5 543.9,191.4 544.7,190.6 545.5,189.3 546.9,189.2 548.0,188.5 549.8,188.6 550.5,189.3 551.9,188.7 553.1,187.4 554.2,187.1 554.9,186.0 556.1,186.9 557.3,187.0 558.8,188.0 560.6,188.4 561.8,189.0 563.4,188.4 564.4,188.9 565.6,188.8 567.5,190.2 568.8,190.7 569.9,189.6 572.0,190.0 573.2,189.6 574.6,188.1 575.5,187.5 576.8,187.6 577.7,186.7 578.9,185.4 580.3,184.4 580.7,184.5 582.1,183.4 582.9,182.2 584.3,182.6 585.4,181.9 587.4,182.5 588.7,182.3 589.5,183.6 590.9,184.5 592.0,182.8 592.8,181.9 593.2,180.4 594.2,180.1 595.5,180.9 596.7,181.5 597.5,182.3 598.3,180.7 599.5,180.8 600.8,179.0 602.0,177.7 603.6,177.7 604.7,177.0 606.0,177.9 607.4,177.2 608.5,177.7 609.4,177.1 611.0,176.5 612.1,176.0 613.4,177.5 614.6,177.7 614.7,178.5 615.4,180.2 616.1,181.4 616.2,182.5 616.5,183.8 618.2,183.8 618.7,183.1 618.6,180.7 618.9,179.9 619.6,178.6 619.7,177.9 619.9,176.5 620.5,174.7 620.5,173.8 620.1,173.1 620.9,171.8 620.5,171.2 620.9,169.4 621.4,167.6 621.4,166.8 621.5,165.3 621.4,163.7 622.1,163.0 622.4,161.2 622.1,160.2 622.8,159.9 622.9,158.3 622.4,156.9 622.7,155.1 623.1,154.6 623.5,153.0 623.5,152.2 624.5,151.7 624.4,149.1 625.0,147.9 625.2,146.6 625.5,146.1 626.5,145.0 626.6,143.3 627.3,143.3 627.9,141.3 628.2,139.6 628.5,139.5 628.7,137.9 629.5,136.2 629.7,135.3 629.5,133.3 630.4,132.8 630.4,131.6 630.7,131.0 631.1,129.2 631.1,128.3 631.4,126.7 632.1,125.6 631.9,123.8 632.7,123.4 632.8,121.8 633.7,122.6 635.2,121.8 635.3,120.1 635.7,119.3 636.4,118.2 636.7,117.6 636.5,116.1 636.7,114.7 637.0,113.1 637.0,112.5 637.6,110.9 637.5,110.1 637.9,108.6 638.4,107.2 638.8,106.7 638.5,104.6 638.9,103.6 639.4,101.8 639.2,101.0 639.9,99.4 639.8,99.1 640.1,96.7 640.1,96.3 640.8,97.2 641.0,99.0 640.9,100.5 641.3,101.2 642.1,102.1 642.8,103.6 643.2,104.8"/>
<polyline points="74.0,235.7 75.1,234.7 76.0,233.0 77.3,232.8 78.4,231.9 79.3,230.4 79.9,231.3 81.3,232.4 82.5,233.6 83.3,233.6 83.8,234.8 84.6,236.1 85.3,234.7 85.9,233.0 86.4,231.4 87.5,231.3 88.6,229.5 90.1,229.7 91.2,231.0 92.4,231.4 93.2,233.0 93.6,230.8 93.9,229.7 94.3,229.1 95.2,226.9 96.6,226.8 96.9,225.7 97.8,223.8 98.7,223.2 99.4,222.7 100.5,221.1 101.8,221.0 103.0,219.0 103.8,218.5 105.0,218.2 106.4,218.9 106.8,216.9 107.6,216.5 108.0,215.4 109.1,213.8 109.9,212.8 111.3,212.3 111.9,211.6 113.0,210.9 114.2,211.0 115.0,212.5 116.1,212.8 116.6,215.2 116.7,216.1 117.6,216.9 118.4,217.8 118.9,218.0 119.9,220.3 121.0,220.5 121.7,222.0 123.1,223.4 123.7,223.8 124.7,224.4 125.9,226.0 127.0,226.4 127.7,225.5 129.0,223.8 129.7,223.3 129.6,222.3 130.1,220.2 131.0,220.0 131.2,218.9 131.8,217.1 132.4,215.6 132.8,214.1 133.1,212.9 134.0,212.2 134.7,211.7 134.9,208.8 135.7,208.2 136.7,209.5 136.8,210.2 137.5,211.8 138.5,213.6 139.3,214.4 140.4,215.2 141.5,216.2 141.4,218.1 141.6,218.7 142.6,219.3 142.7,221.9 142.8,222.4 143.6,221.7 144.0,219.9 145.0,218.8 146.1,220.1 147.7,220.2 148.6,220.8 149.9,221.5 151.0,223.2 151.7,223.8 152.1,225.0 153.4,226.3 154.7,226.8 155.3,225.3 155.8,223.9 156.5,223.3 156.8,222.9 157.7,221.1 157.8,219.5 157.9,218.2 158.9,218.0 159.1,216.2 159.4,215.5 160.1,214.2 160.4,213.2 160.5,212.0 160.9,210.5 161.6,209.6 161.8,208.2 162.2,207.8 163.0,206.1 163.1,205.0 164.0,203.8 165.3,204.7 165.8,203.6 166.6,202.6 167.4,201.2 168.0,199.4 168.5,198.5 169.4,197.6 169.6,196.4 170.6,195.0 171.3,194.3 171.5,192.4 172.7,193.3 173.6,194.7 175.1,195.0 176.1,196.0 176.5,197.5 177.2,197.7 177.8,199.5 178.4,200.3 179.0,202.0 179.5,202.6 180.2,201.8 180.3,199.8 181.2,199.5 181.6,198.4 182.5,196.3 183.0,195.9 183.7,194.4 184.0,193.2 185.0,192.2 185.6,190.9 186.5,190.6 186.7,189.1 187.0,188.2 186.9,187.4 186.9,185.3 187.3,184.1 187.4,183.5 187.8,180.9 188.2,179.7 188.3,179.1 189.2,178.0 190.2,178.1 191.0,176.5 192.4,176.7 193.6,177.3 194.5,177.4 194.9,175.6 195.6,175.0 196.4,174.3 196.6,172.1 197.3,170.2 197.2,169.9 198.0,168.5 199.0,168.8 199.8,170.3 200.3,172.1 200.4,172.5 200.7,173.4 201.7,174.7 202.0,176.7 202.1,176.8 202.4,178.3 204.0,178.9 204.7,179.1 206.0,180.0 207.1,181.0 207.3,182.0 207.9,183.3 208.9,183.8 209.9,185.7 210.4,186.2 211.5,186.9 213.2,188.1 214.8,188.0 215.9,188.9 216.6,190.6 216.7,188.9 217.6,187.9 217.5,187.1 217.8,186.1 218.2,184.2 218.3,183.6 219.4,184.1 220.1,185.1 221.0,186.2 222.0,186.8 223.3,187.2 224.5,188.0 225.6,187.1 225.9,185.5 227.1,185.5 228.3,183.8 228.9,182.7 229.9,184.0 231.6,184.4 231.9,185.8 232.5,187.2 232.7,188.9 233.0,189.3 233.7,190.3 233.7,192.6 234.2,193.3 234.6,194.8 235.9,195.2 236.3,196.7 237.6,196.7 238.0,198.4 238.7,199.0 239.5,200.3 240.1,199.6 241.5,197.8 241.9,198.2 243.3,197.0 243.9,195.9 244.0,195.1 245.2,194.3 245.4,191.7 246.0,190.8 246.3,190.7 246.8,188.3 247.0,188.3 247.6,186.5 248.0,185.4 248.9,183.3 249.7,181.8 250.3,181.2 251.3,181.5 252.9,182.1 253.5,180.5 254.7,180.3 255.1,181.9 255.7,182.1 255.7,183.6 256.1,185.1 256.7,186.2 256.4,187.9 256.8,189.0 257.4,190.0 257.8,191.8 258.2,192.5 258.3,193.5 258.7,195.0 259.3,195.1 259.4,196.7 260.0,198.0 260.9,198.7 261.6,200.6 261.9,201.8 262.6,202.1 263.7,203.4 264.4,205.0 265.6,206.1 266.1,207.7 266.7,208.7 268.0,209.4 268.1,210.0 269.2,212.1 269.1,212.3 270.1,214.4 270.4,214.7 270.6,216.5 272.0,216.7 273.3,217.4 274.0,216.2 275.1,215.4 275.9,214.7 277.0,213.6 278.5,213.8 279.4,213.0 280.2,211.4 280.9,210.1 281.2,208.6 282.4,208.1 283.7,207.2 284.7,206.8 285.3,205.2 286.3,204.3 287.7,204.1 288.3,203.3 289.2,203.8 289.6,206.6 290.3,207.2 290.9,208.6 291.8,209.1 292.4,210.4 293.6,212.1 294.4,212.8 295.6,213.3 296.2,214.7 296.7,215.7 297.3,217.0 298.0,218.6 298.9,220.0 299.3,221.7 300.3,222.8 301.3,223.4 301.8,224.8 302.3,225.4 303.3,226.2 304.0,227.6 305.2,227.9 305.7,228.7 306.8,230.6 307.0,231.1 307.6,233.6 308.1,233.7 308.6,234.8 309.3,236.6 309.3,237.0 310.0,238.5 310.8,238.1 311.4,236.1 312.3,234.3 312.2,234.4 313.1,232.1 313.8,232.5 314.4,230.6 314.8,229.1 314.9,227.4 316.0,226.9 316.4,224.9 316.3,223.7 316.8,222.5 317.1,221.8 317.6,220.0 317.8,220.2 318.3,218.3 319.0,217.0 319.5,218.2 319.7,219.0 320.3,220.6 321.5,221.8 322.0,222.4 322.2,224.0 322.1,225.2 322.8,226.4 323.0,227.7 323.6,229.3 323.5,229.8 324.0,231.0 324.6,229.3 324.3,228.1 324.6,227.5 325.6,225.5 325.3,223.8 325.7,222.5 326.2,222.0 326.6,220.6 326.7,218.7 327.3,217.4 327.2,216.5 327.6,215.0 327.9,214.1 328.5,213.3 328.8,212.2 328.8,210.7 329.5,209.6 329.7,208.7 330.4,207.7 330.9,206.0 331.0,204.9 331.6,202.6 332.2,201.9 332.4,202.5 333.1,204.4 333.7,204.5 334.4,206.3 335.2,207.5 335.1,207.8 335.8,209.4 336.6,210.7 337.7,210.3 338.3,208.1 339.0,207.2 339.9,206.3 340.2,204.3 340.9,204.3 341.5,201.9 341.8,200.7 342.4,199.9 343.1,199.2 343.2,197.5 343.4,196.1 344.6,195.2 344.8,194.1 345.6,193.7 346.0,192.7 346.5,190.8 347.1,191.3 347.9,192.9 347.8,194.9 348.3,195.4 349.2,197.0 349.8,197.5 350.8,198.1 351.8,199.2 353.1,200.8 354.3,199.5 355.4,198.6 356.7,199.3 357.5,200.4 358.7,201.9 359.6,201.3 360.1,199.9 360.3,198.0 361.2,197.5 361.1,195.9 362.0,195.3 361.8,194.4 362.6,192.3 362.7,191.2 362.8,190.8 362.9,189.5 362.8,186.9 363.1,186.6 363.0,185.0 363.3,183.2 363.4,182.5 363.7,181.7 363.8,180.9 364.3,179.5 364.2,177.6 364.9,179.2 365.3,180.8 365.7,181.9 366.4,183.1 366.9,184.4 367.0,185.0 367.2,186.7 367.9,188.6 368.4,189.2 368.6,190.8 369.6,191.6 370.1,192.4 370.8,194.4 371.6,195.9 371.9,196.4 373.2,196.4 374.1,195.3 374.8,194.2 374.8,192.8 375.9,191.1 376.4,190.3 376.4,188.1 376.9,187.2 377.5,186.4 379.3,187.6 380.8,187.5 381.7,186.6 381.8,184.7 382.6,184.3 383.2,182.9 383.9,181.5 384.1,180.9 384.7,179.4 385.7,179.3 386.3,177.6 387.1,178.5 388.7,178.6 389.6,179.8 390.4,179.2 392.1,178.9 392.9,177.6 394.2,176.6 395.0,176.0 396.5,174.8 397.3,174.3 397.9,173.5 398.9,172.4 400.0,173.0 400.1,174.1 401.3,176.0 402.0,177.0 402.5,175.5 403.6,175.2 404.3,174.0 405.7,173.8 406.5,172.9 408.1,172.4 408.9,174.5 409.1,175.7 409.9,177.1 410.4,177.8 410.5,179.3 411.3,180.1 411.0,180.8 411.3,181.8 411.6,183.8 411.9,185.2 412.7,186.4 412.8,187.1 413.3,188.8 413.6,190.5 413.5,191.8 413.3,191.8 413.5,193.3 414.0,195.0 414.3,196.4 414.7,198.0 414.6,198.7 415.2,199.9 415.2,201.4 415.8,202.5 416.2,201.6 416.8,200.8 417.6,198.2 417.9,198.0 418.2,196.4 418.6,194.6 419.2,193.8 419.9,193.6 420.2,191.4 420.8,190.9 421.3,189.4 422.0,188.3 422.0,186.7 422.9,185.8 422.7,184.4 423.2,183.6 423.5,181.7 424.3,180.9 424.5,182.1 425.6,183.4 425.6,185.3 425.9,185.6 426.7,187.1 427.7,185.3 428.4,184.9 428.6,183.8 429.7,183.2 430.3,182.0 431.0,180.4 431.4,180.9 432.3,179.0 432.6,177.7 433.6,177.0 435.5,177.5 436.7,177.5 438.3,176.2 439.8,176.3 441.3,176.1 442.9,175.0 444.0,176.1 445.2,177.0 447.1,177.6 448.3,177.8 449.0,178.2 449.1,180.6 450.0,181.9 450.6,182.5 451.6,184.4 452.0,185.8 452.9,186.3 454.1,185.9 454.7,184.7 456.0,183.2 457.2,183.7 459.0,182.3 459.9,182.5 461.4,181.3 463.0,180.9 464.5,179.8 466.0,179.4 466.8,177.7 467.0,177.2 467.5,176.0 468.8,175.7 469.1,174.0 469.6,172.1 470.9,172.5 471.5,170.1 472.2,169.6 472.5,171.4 473.7,171.2 473.6,173.0 474.4,174.3 474.7,175.8 475.2,177.0 475.5,177.7 476.7,179.1 476.4,179.2 477.3,180.8 477.7,182.1 478.5,183.3 479.6,185.4 480.5,185.9 481.1,187.0 482.0,187.9 483.2,188.2 483.8,189.8 484.3,188.8 484.5,187.6 485.4,185.9 486.1,184.8 487.0,184.2 487.6,182.6 488.2,183.5 489.1,184.3 490.4,185.4 491.7,185.4 493.2,187.0 494.4,186.8 495.9,186.7 496.7,188.6 497.2,189.1 498.2,191.0 498.7,191.5 500.7,192.8 502.0,192.6 503.5,192.1 505.3,192.6 506.9,191.2 507.8,191.4 509.1,190.3 535.0,190.3 536.5,191.1 537.9,192.2 539.4,191.9 540.3,192.7 541.2,192.0 542.7,192.3 543.9,192.2 544.7,191.4 545.5,190.1 546.9,190.0 548.0,189.3 549.8,189.4 550.5,190.1 551.9,189.5 553.1,188.2 554.2,187.9 554.9,186.8 556.1,187.7 557.3,187.8 558.8,188.8 560.6,189.2 561.8,189.8 563.4,189.2 564.4,189.7 565.6,189.6 567.5,191.0 568.8,191.5 569.9,190.4 572.0,190.8 573.2,190.4 574.6,188.9 575.5,188.3 576.8,188.4 577.7,187.5 578.9,186.2 580.3,185.2 580.7,185.3 582.1,184.2 582.9,183.0 584.3,183.4 585.4,182.7 587.4,183.3 588.7,183.1 589.5,184.4 590.9,185.3 592.0,183.6 592.8,182.7 593.2,181.2 594.2,180.9 595.5,181.7 596.7,182.3 597.5,183.1 598.3,181.5 599.5,181.6 600.8,179.8 602.0,178.5 603.6,178.5 604.7,177.8 606.0,178.7 607.4,178.0 608.5,178.5 609.4,177.9 611.0,177.3 612.1,176.8 613.4,178.3 614.6,178.5 614.7,179.3 615.4,181.0 616.1,182.2 616.2,183.3 616.5,184.6 618.2,184.6 618.7,183.9 618.6,181.5 618.9,180.7 619.6,179.4 619.7,178.7 619.9,177.3 620.5,175.5 620.5,174.6 620.1,173.9 620.9,172.6 620.5,172.0 620.9,170.2 621.4,168.4 621.4,167.6 621.5,166.1 621.4,164.5 622.1,163.8 622.4,162.0 622.1,161.0 622.8,160.7 622.9,159.1 622.4,157.7 622.7,155.9 623.1,155.4 623.5,153.8 623.5,153.0 624.5,152.5 624.4,149.9 625.0,148.7 625.2,147.4 625.5,146.9 626.5,145.8 626.6,144.1 627.3,144.1 627.9,142.1 628.2,140.4 628.5,140.3 628.7,138.7 629.5,137.0 629.7,136.1 629.5,134.1 630.4,133.6 630.4,132.4 630.7,131.8 631.1,130.0 631.1,129.1 631.4,127.5 632.1,126.4 631.9,124.6 632.7,124.2 632.8,122.6 633.7,123.4 635.2,122.6 635.3,120.9 635.7,120.1 636.4,119.0 636.7,118.4 636.5,116.9 636.7,115.5 637.0,113.9 637.0,113.3 637.6,111.7 637.5,110.9 637.9,109.4 638.4,108.0 638.8,107.5 638.5,105.4 638.9,104.4 639.4,102.6 639.2,101.8 639.9,100.2 639.8,99.9 640.1,97.5 640.1,97.1 640.8,98.0 641.0,99.8 640.9,101.3 641.3,102.0 642.1,102.9 642.8,104.4 643.2,105.6"/>
<polyline points="74.0,236.5 75.1,235.5 76.0,233.8 77.3,233.6 78.4,232.7 79.3,231.2 79.9,232.1 81.3,233.2 82.5,234.4 83.3,234.4 83.8,235.6 84.6,236.9 85.3,235.5 85.9,233.8 86.4,232.2 87.5,232.1 88.6,230.3 90.1,230.5 91.2,231.8 92.4,232.2 93.2,233.8 93.6,231.6 93.9,230.5 94.3,229.9 95.2,227.7 96.6,227.6 96.9,226.5 97.8,224.6 98.7,224.0 99.4,223.5 100.5,221.9 101.8,221.8 103.0,219.8 103.8,219.3 105.0,219.0 106.4,219.7 106.8,217.7 107.6,217.3 108.0,216.2 109.1,214.6 109.9,213.6 111.3,213.1 111.9,212.4 113.0,211.7 114.2,211.8 115.0,213.3 116.1,213.6 116.6,216.0 116.7,216.9 117.6,217.7 118.4,218.6 118.9,218.8 119.9,221.1 121.0,221.3 121.7,222.8 123.1,224.2 123.7,224.6 124.7,225.2 125.9,226.8 127.0,227.2 127.7,226.3 129.0,224.6 129.7,224.1 129.6,223.1 130.1,221.0 131.0,220.8 131.2,219.7 131.8,217.9 132.4,216.4 132.8,214.9 133.1,213.7 134.0,213.0 134.7,212.5 134.9,209.6 135.7,209.0 136.7,210.3 136.8,211.0 137.5,212.6 138.5,214.4 139.3,215.2 140.4,216.0 141.5,217.0 141.4,218.9 141.6,219.5 142.6,220.1 142.7,222.7 142.8,223.2 143.6,222.5 144.0,220.7 145.0,219.6 146.1,220.9 147.7,221.0 148.6,221.6 149.9,222.3 151.0,224.0 151.7,224.6 152.1,225.8 153.4,227.1 154.7,227.6 155.3,226.1 155.8,224.7 156.5,224.1 156.8,223.7 157.7,221.9 157.8,220.3 157.9,219.0 158.9,218.8 159.1,217.0 159.4,216.3 160.1,215.0 160.4,214.0 160.5,212.8 160.9,211.3 161.6,210.4 161.8,209.0 162.2,208.6 163.0,206.9 163.1,205.8 164.0,204.6 165.3,205.5 165.8,204.4 166.6,203.4 167.4,202.0 168.0,200.2 168.5,199.3 169.4,198.4 169.6,197.2 170.6,195.8 171.3,195.1 171.5,193.2 172.7,194.1 173.6,195.5 175.1,195.8 176.1,196.8 176.5,198.3 177.2,198.5 177.8,200.3 178.4,201.1 179.0,202.8 179.5,203.4 180.2,202.6 180.3,200.6 181.2,200.3 181.6,199.2 182.5,197.1 183.0,196.7 183.7,195.2 184.0,194.0 185.0,193.0 185.6,191.7 186.5,191.4 186.7,189.9 187.0,189.0 186.9,188.2 186.9,186.1 187.3,184.9 187.4,184.3 187.8,181.7 188.2,180.5 188.3,179.9 189.2,178.8 190.2,178.9 191.0,177.3 192.4,177.5 193.6,178.1 194.5,178.2 194.9,176.4 195.6,175.8 196.4,175.1 196.6,172.9 197.3,171.0 197.2,170.7 198.0,169.3 199.0,169.6 199.8,171.1 200.3,172.9 200.4,173.3 200.7,174.2 201.7,175.5 202.0,177.5 202.1,177.6 202.4,179.1 204.0,179.7 204.7,179.9 206.0,180.8 207.1,181.8 207.3,182.8 207.9,184.1 208.9,184.6 209.9,186.5 210.4,187.0 211.5,187.7 213.2,188.9 214.8,188.8 215.9,189.7 216.6,191.4 216.7,189.7 217.6,188.7 217.5,187.9 217.8,186.9 218.2,185.0 218.3,184.4 219.4,184.9 220.1,185.9 221.0,187.0 222.0,187.6 223.3,188.0 224.5,188.8 225.6,187.9 225.9,186.3 227.1,186.3 228.3,184.6 228.9,183.5 229.9,184.8 231.6,185.2 231.9,186.6 232.5,188.0 232.7,189.7 233.0,190.1 233.7,191.1 233.7,193.4 234.2,194.1 234.6,195.6 235.9,196.0 236.3,197.5 237.6,197.5 238.0,199.2 238.7,199.8 239.5,201.1 240.1,200.4 241.5,198.6 241.9,199.0 243.3,197.8 243.9,196.7 244.0,195.9 245.2,195.1 245.4,192.5 246.0,191.6 246.3,191.5 246.8,189.1 247.0,189.1 247.6,187.3 248.0,186.2 248.9,184.1 249.7,182.6 250.3,182.0 251.3,182.3 252.9,182.9 253.5,181.3 254.7,181.1 255.1,182.7 255.7,182.9 255.7,184.4 256.1,185.9 256.7,187.0 256.4,188.7 256.8,189.8 257.4,190.8 257.8,192.6 258.2,193.3 258.3,194.3 258.7,195.8 259.3,195.9 259.4,197.5 260.0,198.8 260.9,199.5 261.6,201.4 261.9,202.6 262.6,202.9 263.7,204.2 264.4,205.8 265.6,206.9 266.1,208.5 266.7,209.5 268.0,210.2 268.1,210.8 269.2,212.9 269.1,213.1 270.1,215.2 270.4,215.5 270.6,217.3 272.0,217.5 273.3,218.2 274.0,217.0 275.1,216.2 275.9,215.5 277.0,214.4 278.5,214.6 279.4,213.8 280.2,212.2 280.9,210.9 281.2,209.4 282.4,208.9 283.7,208.0 284.7,207.6 285.3,206.0 286.3,205.1 287.7,204.9 288.3,204.1 289.2,204.6 289.6,207.4 290.3,208.0 290.9,209.4 291.8,209.9 292.4,211.2 293.6,212.9 294.4,213.6 295.6,214.1 296.2,215.5 296.7,216.5 297.3,217.8 298.0,219.4 298.9,220.8 299.3,222.5 300.3,223.6 301.3,224.2 301.8,225.6 302.3,226.2 303.3,227.0 304.0,228.4 305.2,228.7 305.7,229.5 306.8,231.4 307.0,231.9 307.6,234.4 308.1,234.5 308.6,235.6 309.3,237.4 309.3,237.8 310.0,239.3 310.8,238.9 311.4,236.9 312.3,235.1 312.2,235.2 313.1,232.9 313.8,233.3 314.4,231.4 314.8,229.9 314.9,228.2 316.0,227.7 316.4,225.7 316.3,224.5 316.8,223.3 317.1,222.6 317.6,220.8 317.8,221.0 318.3,219.1 319.0,217.8 319.5,219.0 319.7,219.8 320.3,221.4 321.5,222.6 322.0,223.2 322.2,224.8 322.1,226.0 322.8,227.2 323.0,228.5 323.6,230.1 323.5,230.6 324.0,231.8 324.6,230.1 324.3,228.9 324.6,228.3 325.6,226.3 325.3,224.6 325.7,223.3 326.2,222.8 326.6,221.4 326.7,219.5 327.3,218.2 327.2,217.3 327.6,215.8 327.9,214.9 328.5,214.1 328.8,213.0 328.8,211.5 329.5,210.4 329.7,209.5 330.4,208.5 330.9,206.8 331.0,205.7 331.6,203.4 332.2,202.7 332.4,203.3 333.1,205.2 333.7,205.3 334.4,207.1 335.2,208.3 335.1,208.6 335.8,210.2 336.6,211.5 337.7,211.1 338.3,208.9 339.0,208.0 339.9,207.1 340.2,205.1 340.9,205.1 341.5,202.7 341.8,201.5 342.4,200.7 343.1,200.0 343.2,198.3 343.4,196.9 344.6,196.0 344.8,194.9 345.6,194.5 346.0,193.5 346.5,191.6 347.1,192.1 347.9,193.7 347.8,195.7 348.3,196.2 349.2,197.8 349.8,198.3 350.8,198.9 351.8,200.0 353.1,201.6 354.3,200.3 355.4,199.4 356.7,200.1 357.5,201.2 358.7,202.7 359.6,202.1 360.1,200.7 360.3,198.8 361.2,198.3 361.1,196.7 362.0,196.1 361.8,195.2 362.6,193.1 362.7,192.0 362.8,191.6 362.9,190.3 362.8,187.7 363.1,187.4 363.0,185.8 363.3,184.0 363.4,183.3 363.7,182.5 363.8,181.7 364.3,180.3 364.2,178.4 364.9,180.0 365.3,181.6 365.7,182.7 366.4,183.9 366.9,185.2 367.0,185.8 367.2,187.5 367.9,189.4 368.4,190.0 368.6,191.6 369.6,192.4 370.1,193.2 370.8,195.2 371.6,196.7 371.9,197.2 373.2,197.2 374.1,196.1 374.8,195.0 374.8,193.6 375.9,191.9 376.4,191.1 376.4,188.9 376.9,188.0 377.5,187.2 379.3,188.4 380.8,188.3 381.7,187.4 381.8,185.5 382.6,185.1 383.2,183.7 383.9,182.3 384.1,181.7 384.7,180.2 385.7,180.1 386.3,178.4 387.1,179.3 388.7,179.4 389.6,180.6 390.4,180.0 392.1,179.7 392.9,178.4 394.2,177.4 395.0,176.8 396.5,175.6 397.3,175.1 397.9,174.3 398.9,173.2 400.0,173.8 400.1,174.9 401.3,176.8 402.0,177.8 402.5,176.3 403.6,176.0 404.3,174.8 405.7,174.6 406.5,173.7 408.1,173.2 408.9,175.3 409.1,176.5 409.9,177.9 410.4,178.6 410.5,180.1 411.3,180.9 411.0,181.6 411.3,182.6 411.6,184.6 411.9,186.0 412.7,187.2 412.8,187.9 413.3,189.6 413.6,191.3 413.5,192.6 413.3,192.6 413.5,194.1 414.0,195.8 414.3,197.2 414.7,198.8 414.6,199.5 415.2,200.7 415.2,202.2 415.8,203.3 416.2,202.4 416.8,201.6 417.6,199.0 417.9,198.8 418.2,197.2 418.6,195.4 419.2,194.6 419.9,194.4 420.2,192.2 420.8,191.7 421.3,190.2 422.0,189.1 422.0,187.5 422.9,186.6 422.7,185.2 423.2,184.4 423.5,182.5 424.3,181.7 424.5,182.9 425.6,184.2 425.6,186.1 425.9,186.4 426.7,187.9 427.7,186.1 428.4,185.7 428.6,184.6 429.7,184.0 430.3,182.8 431.0,181.2 431.4,181.7 432.3,179.8 432.6,178.5 433.6,177.8 435.5,178.3 436.7,178.3 438.3,177.0 439.8,177.1 441.3,176.9 442.9,175.8 444.0,176.9 445.2,177.8 447.1,178.4 448.3,178.6 449.0,179.0 449.1,181.4 450.0,182.7 450.6,183.3 451.6,185.2 452.0,186.6 452.9,187.1 454.1,186.7 454.7,185.5 456.0,184.0 457.2,184.5 459.0,183.1 459.9,183.3 461.4,182.1 463.0,181.7 464.5,180.6 466.0,180.2 466.8,178.5 467.0,178.0 467.5,176.8 468.8,176.5 469.1,174.8 469.6,172.9 470.9,173.3 471.5,170.9 472.2,170.4 472.5,172.2 473.7,172.0 473.6,173.8 474.4,175.1 474.7,176.6 475.2,177.8 475.5,178.5 476.7,179.9 476.4,180.0 477.3,181.6 477.7,182.9 478.5,184.1 479.6,186.2 480.5,186.7 481.1,187.8 482.0,188.7 483.2,189.0 483.8,190.6 484.3,189.6 484.5,188.4 485.4,186.7 486.1,185.6 487.0,185.0 487.6,183.4 488.2,184.3 489.1,185.1 490.4,186.2 491.7,186.2 493.2,187.8 494.4,187.6 495.9,187.5 496.7,189.4 497.2,189.9 498.2,191.8 498.7,192.3 500.7,193.6 502.0,193.4 503.5,192.9 505.3,193.4 506.9,192.0 507.8,192.2 509.1,191.1 535.0,191.1 536.5,191.9 537.9,193.0 539.4,192.7 540.3,193.5 541.2,192.8 542.7,193.1 543.9,193.0 544.7,192.2 545.5,190.9 546.9,190.8 548.0,190.1 549.8,190.2 550.5,190.9 551.9,190.3 553.1,189.0 554.2,188.7 554.9,187.6 556.1,188.5 557.3,188.6 558.8,189.6 560.6,190.0 561.8,190.6 563.4,190.0 564.4,190.5 565.6,190.4 567.5,191.8 568.8,192.3 569.9,191.2 572.0,191.6 573.2,191.2 574.6,189.7 575.5,189.1 576.8,189.2 577.7,188.3 578.9,187.0 580.3,186.0 580.7,186.1 582.1,185.0 582.9,183.8 584.3,184.2 585.4,183.5 587.4,184.1 588.7,183.9 589.5,185.2 590.9,186.1 592.0,184.4 592.8,183.5 593.2,182.0 594.2,181.7 595.5,182.5 596.7,183.1 597.5,183.9 598.3,182.3 599.5,182.4 600.8,180.6 602.0,179.3 603.6,179.3 604.7,178.6 606.0,179.5 607.4,178.8 608.5,179.3 609.4,178.7 611.0,178.1 612.1,177.6 613.4,179.1 614.6,179.3 614.7,180.1 615.4,181.8 616.1,183.0 616.2,184.1 616.5,185.4 618.2,185.4 618.7,184.7 618.6,182.3 618.9,181.5 619.6,180.2 619.7,179.5 619.9,178.1 620.5,176.3 620.5,175.4 620.1,174.7 620.9,173.4 620.5,172.8 620.9,171.0 621.4,169.2 621.4,168.4 621.5,166.9 621.4,165.3 622.1,164.6 622.4,162.8 622.1,161.8 622.8,161.5 622.9,159.9 622.4,158.5 622.7,156.7 623.1,156.2 623.5,154.6 623.5,153.8 624.5,153.3 624.4,150.7 625.0,149.5 625.2,148.2 625.5,147.7 626.5,146.6 626.6,144.9 627.3,144.9 627.9,142.9 628.2,141.2 628.5,141.1 628.7,139.5 629.5,137.8 629.7,136.9 629.5,134.9 630.4,134.4 630.4,133.2 630.7,132.6 631.1,130.8 631.1,129.9 631.4,128.3 632.1,127.2 631.9,125.4 632.7,125.0 632.8,123.4 633.7,124.2 635.2,123.4 635.3,121.7 635.7,120.9 636.4,119.8 636.7,119.2 636.5,117.7 636.7,116.3 637.0,114.7 637.0,114.1 637.6,112.5 637.5,111.7 637.9,110.2 638.4,108.8 638.8,108.3 638.5,106.2 638.9,105.2 639.4,103.4 639.2,102.6 639.9,101.0 639.8,100.7 640.1,98.3 640.1,97.9 640.8,98.8 641.0,100.6 640.9,102.1 641.3,102.8 642.1,103.7 642.8,105.2 643.2,106.4"/>
</g>
<g fill="none" stroke="#66c8f6" stroke-width="1.4" stroke-linejoin="round" stroke-linecap="round">
<polyline points="535.6,159.5 535.5,160.2 535.8,161.2 535.8,162.9 535.4,164.4 535.5,165.5 535.6,166.1 535.9,168.5 536.0,169.2 535.7,170.0 536.1,172.3 536.1,172.7 536.4,173.3 536.4,174.9 535.8,175.9 535.9,178.2 535.9,179.1 536.2,179.9 536.2,180.7 535.8,182.1 536.3,183.7 536.0,185.1 536.2,185.9 536.4,187.8 536.0,188.8 536.2,190.5 536.4,190.8 536.6,191.7 536.2,193.9 536.0,194.7 535.9,196.2 536.5,197.3 536.6,198.1 536.5,199.8 536.4,200.8 536.6,202.7 536.4,203.5 536.0,204.8 536.5,206.5 536.7,206.6 536.3,208.4 536.1,209.3 536.2,209.9 536.1,212.2 536.2,212.6 536.5,214.2 536.5,216.0 536.3,216.6 536.7,218.5 537.0,219.7 536.6,220.2 536.7,222.1 537.3,222.2 536.7,223.5 537.0,225.2 537.0,226.4 537.5,227.2 537.3,228.6 537.8,230.1 538.5,231.4 538.4,232.5 538.8,232.8 538.9,234.7 539.5,233.7 539.7,232.2 539.6,230.1 539.9,228.8 539.8,227.8 539.9,225.7 540.3,224.7 540.6,223.3 540.5,222.3 540.8,221.4 540.9,221.1 541.6,218.7 541.5,217.8 541.9,216.9 542.2,214.9 543.0,215.0 543.1,212.8 543.6,211.5 543.9,209.6 544.9,208.9 546.9,207.9 547.4,208.5 548.5,209.4 548.9,210.9 548.8,210.4 549.4,207.8 549.7,206.4 549.9,206.7 550.4,205.0 550.2,203.2 550.4,202.6 550.9,200.9 551.2,200.1 551.3,198.0 551.9,198.0 552.2,196.4 552.4,195.1 552.2,193.5 552.5,191.5 552.9,191.0 552.9,189.4 553.5,188.9 554.5,187.3 554.8,187.0 554.9,185.0 556.7,185.3 557.8,186.0 558.7,184.8 560.0,184.5 561.8,184.0 563.3,182.3 564.2,182.4 565.6,184.1 566.6,184.1 568.0,183.3 568.9,183.1 569.9,181.9 570.7,182.9 572.4,183.8 573.2,184.1 574.5,183.6 575.2,183.7 576.4,183.2 577.7,182.3 579.7,181.6 581.0,181.2 582.6,182.5 584.3,182.3 585.6,182.9 586.2,183.9 587.6,185.6 588.4,187.4 588.2,188.8 589.3,189.8 589.2,191.0 589.8,192.2 590.1,192.5 591.3,194.7 591.5,196.2 591.9,197.3 592.8,197.3 593.1,198.9 594.0,199.3 595.1,200.5 596.4,201.1 597.9,201.5 599.7,202.2 600.0,204.2 600.7,204.9 601.4,207.0 601.9,207.7 602.2,209.7 602.7,210.3 603.1,210.8 603.4,212.3 603.4,214.6 604.2,215.4 604.2,216.6 604.9,218.0 605.0,219.2 605.5,220.5 606.3,222.2 606.6,223.0 607.6,224.2 607.9,225.2 608.9,227.0 609.2,228.8 609.7,229.8 610.6,231.1 610.9,232.6 611.4,234.2 611.9,235.3 612.1,236.7 612.4,238.6 612.8,239.8 613.3,240.1 613.3,242.5 613.7,242.5 613.4,244.3 614.0,245.7 613.9,244.1 614.2,243.6 615.0,242.8 614.8,241.3 615.5,239.2 615.6,238.6 616.2,238.1 616.0,236.9 616.4,234.9 617.2,234.2 616.8,232.3 617.4,231.2 617.9,229.6 618.2,228.3 619.1,226.5 619.4,225.9 619.9,224.7 620.3,225.4 621.6,226.7 622.3,227.7 623.2,228.2 624.7,227.1 625.8,229.1 626.1,229.2 627.2,230.8 627.4,232.4 628.2,232.6 628.9,235.1 629.6,235.6 631.1,236.0 631.7,237.9 633.2,238.0 634.0,239.3 634.4,239.3 635.6,240.8 635.8,242.6 636.9,242.9 637.6,244.6 637.8,245.9 638.4,247.1 639.3,247.5 639.9,249.7 640.5,250.2 641.1,250.8 642.0,252.2 642.4,253.3 643.1,254.5 644.2,256.2 644.7,256.9 645.8,257.9 646.3,258.8 646.8,259.6 647.4,260.6 648.5,262.5 649.0,263.5 649.3,264.7 650.4,265.3 650.8,267.0 651.1,268.9 651.6,269.6 652.3,271.6 652.7,272.0 653.0,273.7 653.7,274.6 653.9,275.4 654.0,276.3 654.4,278.4 655.0,278.7 655.2,281.0 656.3,282.0 656.4,282.9 656.5,283.7 656.8,285.3 657.0,286.5 657.4,288.5 658.3,289.0 658.0,290.9 658.3,291.2 658.8,292.6 658.8,293.6 659.5,295.0 659.7,296.3 659.9,297.1 660.7,298.7 661.0,297.3 661.5,295.5 662.3,294.6 663.2,293.9 663.7,292.6 664.8,291.7 665.7,290.8 666.3,288.7 667.3,287.8 668.4,286.3 669.0,286.1 669.2,285.4 670.6,284.1 671.0,282.9 672.1,282.5 672.5,281.1 673.7,280.7 674.6,279.3 676.4,279.2 677.8,278.1 678.2,279.9 678.5,280.8 678.4,281.0 678.6,282.7 678.9,284.7 679.5,285.4 680.4,286.5 681.4,287.5 682.2,287.3 683.1,289.0 684.6,289.7 685.6,289.7 686.9,289.2 688.0,290.2"/>
<polyline points="535.6,160.3 535.5,161.0 535.8,162.0 535.8,163.7 535.4,165.2 535.5,166.3 535.6,166.9 535.9,169.3 536.0,170.0 535.7,170.8 536.1,173.1 536.1,173.5 536.4,174.1 536.4,175.7 535.8,176.7 535.9,179.0 535.9,179.9 536.2,180.7 536.2,181.5 535.8,182.9 536.3,184.5 536.0,185.9 536.2,186.7 536.4,188.6 536.0,189.6 536.2,191.3 536.4,191.6 536.6,192.5 536.2,194.7 536.0,195.5 535.9,197.0 536.5,198.1 536.6,198.9 536.5,200.6 536.4,201.6 536.6,203.5 536.4,204.3 536.0,205.6 536.5,207.3 536.7,207.4 536.3,209.2 536.1,210.1 536.2,210.7 536.1,213.0 536.2,213.4 536.5,215.0 536.5,216.8 536.3,217.4 536.7,219.3 537.0,220.5 536.6,221.0 536.7,222.9 537.3,223.0 536.7,224.3 537.0,226.0 537.0,227.2 537.5,228.0 537.3,229.4 537.8,230.9 538.5,232.2 538.4,233.3 538.8,233.6 538.9,235.5 539.5,234.5 539.7,233.0 539.6,230.9 539.9,229.6 539.8,228.6 539.9,226.5 540.3,225.5 540.6,224.1 540.5,223.1 540.8,222.2 540.9,221.9 541.6,219.5 541.5,218.6 541.9,217.7 542.2,215.7 543.0,215.8 543.1,213.6 543.6,212.3 543.9,210.4 544.9,209.7 546.9,208.7 547.4,209.3 548.5,210.2 548.9,211.7 548.8,211.2 549.4,208.6 549.7,207.2 549.9,207.5 550.4,205.8 550.2,204.0 550.4,203.4 550.9,201.7 551.2,200.9 551.3,198.8 551.9,198.8 552.2,197.2 552.4,195.9 552.2,194.3 552.5,192.3 552.9,191.8 552.9,190.2 553.5,189.7 554.5,188.1 554.8,187.8 554.9,185.8 556.7,186.1 557.8,186.8 558.7,185.6 560.0,185.3 561.8,184.8 563.3,183.1 564.2,183.2 565.6,184.9 566.6,184.9 568.0,184.1 568.9,183.9 569.9,182.7 570.7,183.7 572.4,184.6 573.2,184.9 574.5,184.4 575.2,184.5 576.4,184.0 577.7,183.1 579.7,182.4 581.0,182.0 582.6,183.3 584.3,183.1 585.6,183.7 586.2,184.7 587.6,186.4 588.4,188.2 588.2,189.6 589.3,190.6 589.2,191.8 589.8,193.0 590.1,193.3 591.3,195.5 591.5,197.0 591.9,198.1 592.8,198.1 593.1,199.7 594.0,200.1 595.1,201.3 596.4,201.9 597.9,202.3 599.7,203.0 600.0,205.0 600.7,205.7 601.4,207.8 601.9,208.5 602.2,210.5 602.7,211.1 603.1,211.6 603.4,213.1 603.4,215.4 604.2,216.2 604.2,217.4 604.9,218.8 605.0,220.0 605.5,221.3 606.3,223.0 606.6,223.8 607.6,225.0 607.9,226.0 608.9,227.8 609.2,229.6 609.7,230.6 610.6,231.9 610.9,233.4 611.4,235.0 611.9,236.1 612.1,237.5 612.4,239.4 612.8,240.6 613.3,240.9 613.3,243.3 613.7,243.3 613.4,245.1 614.0,246.5 613.9,244.9 614.2,244.4 615.0,243.6 614.8,242.1 615.5,240.0 615.6,239.4 616.2,238.9 616.0,237.7 616.4,235.7 617.2,235.0 616.8,233.1 617.4,232.0 617.9,230.4 618.2,229.1 619.1,227.3 619.4,226.7 619.9,225.5 620.3,226.2 621.6,227.5 622.3,228.5 623.2,229.0 624.7,227.9 625.8,229.9 626.1,230.0 627.2,231.6 627.4,233.2 628.2,233.4 628.9,235.9 629.6,236.4 631.1,236.8 631.7,238.7 633.2,238.8 634.0,240.1 634.4,240.1 635.6,241.6 635.8,243.4 636.9,243.7 637.6,245.4 637.8,246.7 638.4,247.9 639.3,248.3 639.9,250.5 640.5,251.0 641.1,251.6 642.0,253.0 642.4,254.1 643.1,255.3 644.2,257.0 644.7,257.7 645.8,258.7 646.3,259.6 646.8,260.4 647.4,261.4 648.5,263.3 649.0,264.3 649.3,265.5 650.4,266.1 650.8,267.8 651.1,269.7 651.6,270.4 652.3,272.4 652.7,272.8 653.0,274.5 653.7,275.4 653.9,276.2 654.0,277.1 654.4,279.2 655.0,279.5 655.2,281.8 656.3,282.8 656.4,283.7 656.5,284.5 656.8,286.1 657.0,287.3 657.4,289.3 658.3,289.8 658.0,291.7 658.3,292.0 658.8,293.4 658.8,294.4 659.5,295.8 659.7,297.1 659.9,297.9 660.7,299.5 661.0,298.1 661.5,296.3 662.3,295.4 663.2,294.7 663.7,293.4 664.8,292.5 665.7,291.6 666.3,289.5 667.3,288.6 668.4,287.1 669.0,286.9 669.2,286.2 670.6,284.9 671.0,283.7 672.1,283.3 672.5,281.9 673.7,281.5 674.6,280.1 676.4,280.0 677.8,278.9 678.2,280.7 678.5,281.6 678.4,281.8 678.6,283.5 678.9,285.5 679.5,286.2 680.4,287.3 681.4,288.3 682.2,288.1 683.1,289.8 684.6,290.5 685.6,290.5 686.9,290.0 688.0,291.0"/>
<polyline points="535.6,161.1 535.5,161.8 535.8,162.8 535.8,164.5 535.4,166.0 535.5,167.1 535.6,167.7 535.9,170.1 536.0,170.8 535.7,171.6 536.1,173.9 536.1,174.3 536.4,174.9 536.4,176.5 535.8,177.5 535.9,179.8 535.9,180.7 536.2,181.5 536.2,182.3 535.8,183.7 536.3,185.3 536.0,186.7 536.2,187.5 536.4,189.4 536.0,190.4 536.2,192.1 536.4,192.4 536.6,193.3 536.2,195.5 536.0,196.3 535.9,197.8 536.5,198.9 536.6,199.7 536.5,201.4 536.4,202.4 536.6,204.3 536.4,205.1 536.0,206.4 536.5,208.1 536.7,208.2 536.3,210.0 536.1,210.9 536.2,211.5 536.1,213.8 536.2,214.2 536.5,215.8 536.5,217.6 536.3,218.2 536.7,220.1 537.0,221.3 536.6,221.8 536.7,223.7 537.3,223.8 536.7,225.1 537.0,226.8 537.0,228.0 537.5,228.8 537.3,230.2 537.8,231.7 538.5,233.0 538.4,234.1 538.8,234.4 538.9,236.3 539.5,235.3 539.7,233.8 539.6,231.7 539.9,230.4 539.8,229.4 539.9,227.3 540.3,226.3 540.6,224.9 540.5,223.9 540.8,223.0 540.9,222.7 541.6,220.3 541.5,219.4 541.9,218.5 542.2,216.5 543.0,216.6 543.1,214.4 543.6,213.1 543.9,211.2 544.9,210.5 546.9,209.5 547.4,210.1 548.5,211.0 548.9,212.5 548.8,212.0 549.4,209.4 549.7,208.0 549.9,208.3 550.4,206.6 550.2,204.8 550.4,204.2 550.9,202.5 551.2,201.7 551.3,199.6 551.9,199.6 552.2,198.0 552.4,196.7 552.2,195.1 552.5,193.1 552.9,192.6 552.9,191.0 553.5,190.5 554.5,188.9 554.8,188.6 554.9,186.6 556.7,186.9 557.8,187.6 558.7,186.4 560.0,186.1 561.8,185.6 563.3,183.9 564.2,184.0 565.6,185.7 566.6,185.7 568.0,184.9 568.9,184.7 569.9,183.5 570.7,184.5 572.4,185.4 573.2,185.7 574.5,185.2 575.2,185.3 576.4,184.8 577.7,183.9 579.7,183.2 581.0,182.8 582.6,184.1 584.3,183.9 585.6,184.5 586.2,185.5 587.6,187.2 588.4,189.0 588.2,190.4 589.3,191.4 589.2,192.6 589.8,193.8 590.1,194.1 591.3,196.3 591.5,197.8 591.9,198.9 592.8,198.9 593.1,200.5 594.0,200.9 595.1,202.1 596.4,202.7 597.9,203.1 599.7,203.8 600.0,205.8 600.7,206.5 601.4,208.6 601.9,209.3 602.2,211.3 602.7,211.9 603.1,212.4 603.4,213.9 603.4,216.2 604.2,217.0 604.2,218.2 604.9,219.6 605.0,220.8 605.5,222.1 606.3,223.8 606.6,224.6 607.6,225.8 607.9,226.8 608.9,228.6 609.2,230.4 609.7,231.4 610.6,232.7 610.9,234.2 611.4,235.8 611.9,236.9 612.1,238.3 612.4,240.2 612.8,241.4 613.3,241.7 613.3,244.1 613.7,244.1 613.4,245.9 614.0,247.3 613.9,245.7 614.2,245.2 615.0,244.4 614.8,242.9 615.5,240.8 615.6,240.2 616.2,239.7 616.0,238.5 616.4,236.5 617.2,235.8 616.8,233.9 617.4,232.8 617.9,231.2 618.2,229.9 619.1,228.1 619.4,227.5 619.9,226.3 620.3,227.0 621.6,228.3 622.3,229.3 623.2,229.8 624.7,228.7 625.8,230.7 626.1,230.8 627.2,232.4 627.4,234.0 628.2,234.2 628.9,236.7 629.6,237.2 631.1,237.6 631.7,239.5 633.2,239.6 634.0,240.9 634.4,240.9 635.6,242.4 635.8,244.2 636.9,244.5 637.6,246.2 637.8,247.5 638.4,248.7 639.3,249.1 639.9,251.3 640.5,251.8 641.1,252.4 642.0,253.8 642.4,254.9 643.1,256.1 644.2,257.8 644.7,258.5 645.8,259.5 646.3,260.4 646.8,261.2 647.4,262.2 648.5,264.1 649.0,265.1 649.3,266.3 650.4,266.9 650.8,268.6 651.1,270.5 651.6,271.2 652.3,273.2 652.7,273.6 653.0,275.3 653.7,276.2 653.9,277.0 654.0,277.9 654.4,280.0 655.0,280.3 655.2,282.6 656.3,283.6 656.4,284.5 656.5,285.3 656.8,286.9 657.0,288.1 657.4,290.1 658.3,290.6 658.0,292.5 658.3,292.8 658.8,294.2 658.8,295.2 659.5,296.6 659.7,297.9 659.9,298.7 660.7,300.3 661.0,298.9 661.5,297.1 662.3,296.2 663.2,295.5 663.7,294.2 664.8,293.3 665.7,292.4 666.3,290.3 667.3,289.4 668.4,287.9 669.0,287.7 669.2,287.0 670.6,285.7 671.0,284.5 672.1,284.1 672.5,282.7 673.7,282.3 674.6,280.9 676.4,280.8 677.8,279.7 678.2,281.5 678.5,282.4 678.4,282.6 678.6,284.3 678.9,286.3 679.5,287.0 680.4,288.1 681.4,289.1 682.2,288.9 683.1,290.6 684.6,291.3 685.6,291.3 686.9,290.8 688.0,291.8"/>
</g>
<rect x="516" y="158.8" width="19.8" height="3" fill="#66c8f6"/>
<rect x="484.5" y="28.5" width="205" height="42.5" fill="#000" stroke="#393939" stroke-width="1"/>
<g font-family="Liberation Mono, monospace" font-weight="bold" font-size="13">
<text x="502.5" y="39.6" fill="#66c8f6">Apr 09 Sunday</text>
<text x="502.5" y="53.4" fill="#e23d29">Apr 10 NY close 1991.50</text>
<text x="502.5" y="67" fill="#74ec50">Apr 11 Last 2014.20</text>
</g>
<rect x="491.8" y="33" width="6.7" height="2" fill="#66c8f6"/>
<rect x="491.8" y="47.2" width="6.7" height="2" fill="#e23d29"/>
<rect x="491.8" y="62.7" width="6.7" height="2" fill="#74ec50"/>
<g font-family="Liberation Mono, monospace" font-weight="bold" font-size="13" fill="#cdcdcd">
<text x="21.5" y="16.3">USD/oz</text>
<text x="21.5" y="32.0">2025.0</text>
<text x="21.5" y="70.6">2020.0</text>
<text x="21.5" y="108.8">2015.0</text>
<text x="21.5" y="146.5">2010.0</text>
<text x="21.5" y="185.3">2005.0</text>
<text x="21.5" y="224.2">2000.0</text>
<text x="21.5" y="261.8">1995.0</text>
<text x="21.5" y="299.6">1990.0</text>
<text x="21.5" y="338.5">1985.0</text>
<text x="21.5" y="377.2">1980.0</text>
<text x="21.5" y="414.5">1975.0</text>
<text x="521.3" y="24.3">April 11, 2023 22:10</text>
<text x="72" y="427.5" text-anchor="middle">00:00</text>
<text x="174.7" y="427.5" text-anchor="middle">04:00</text>
<text x="277.3" y="427.5" text-anchor="middle">08:00</text>
<text x="380" y="427.5" text-anchor="middle">12:00</text>
<text x="482.7" y="427.5" text-anchor="middle">16:00</text>
<text x="585.3" y="427.5" text-anchor="middle">20:00</text>
<text x="675.3" y="427.5" text-anchor="middle">23:59</text>
</g>
<g font-family="Liberation Mono, monospace" font-weight="bold" font-size="13" fill="#5a5a5a">
<text x="72" y="442.8" text-anchor="middle">04:00</text>
<text x="174.7" y="442.8" text-anchor="middle">08:00</text>
<text x="277.3" y="442.8" text-anchor="middle">12:00</text>
<text x="380" y="442.8" text-anchor="middle">16:00</text>
<text x="482.7" y="442.8" text-anchor="middle">20:00</text>
<text x="585.3" y="442.8" text-anchor="middle">00:00</text>
<text x="676" y="442.8" text-anchor="middle">03:59</text>
</g>
<g font-family="DejaVu Sans Mono, monospace" font-size="11" fill="#c8c8c8">
<text x="2.8" y="428.2">NY Time</text>
<text x="12" y="441.5">GMT</text>
</g>
<text x="210.3" y="21.5" font-family="Liberation Sans, Arial, sans-serif" font-weight="bold" font-size="21.8" textLength="233" lengthAdjust="spacingAndGlyphs" fill="#5f7ce8">24 Hour Spot Gold (Bid)</text>
<text x="75" y="58.3" font-family="Liberation Sans, Arial, sans-serif" font-weight="bold" font-size="20.4" fill="#5f7ce8">www.kitco.com</text>
</svg>
</body></html>
